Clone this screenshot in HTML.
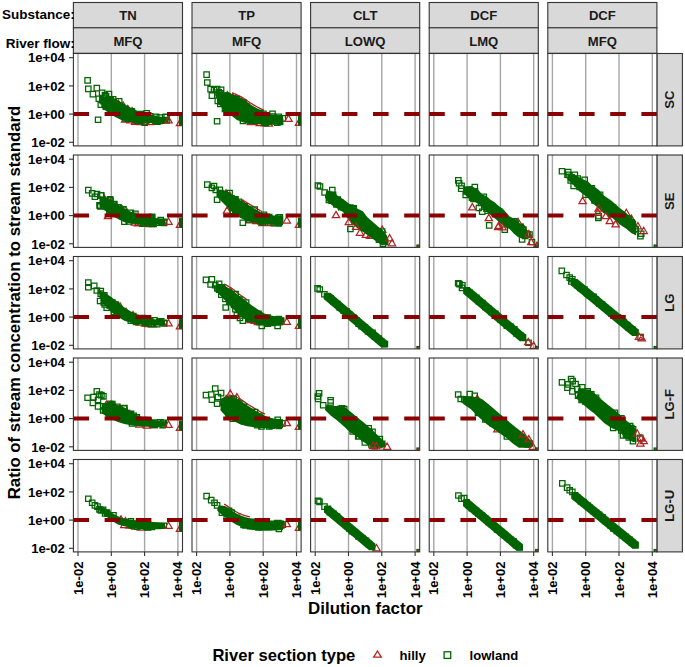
<!DOCTYPE html>
<html><head><meta charset="utf-8"><style>html,body{margin:0;padding:0;background:#fff;}svg{display:block;} text{font-family:"Liberation Sans",sans-serif;font-weight:bold;-webkit-font-smoothing:antialiased;} html,body{overflow:hidden;}</style></head>
<body><svg width="685" height="667" viewBox="0 0 685 667">
<rect width="685" height="667" fill="#fff"/>
<rect x="73.40" y="2.50" width="109.10" height="25.50" fill="#d9d9d9" stroke="#333333" stroke-width="1.1"/>
<text x="127.95" y="20.10" font-family="Liberation Sans, sans-serif" font-weight="bold" font-size="13.1" fill="#1a1a1a" text-anchor="middle">TN</text>
<rect x="73.40" y="27.80" width="109.10" height="25.50" fill="#d9d9d9" stroke="#333333" stroke-width="1.1"/>
<text x="127.95" y="45.90" font-family="Liberation Sans, sans-serif" font-weight="bold" font-size="13.1" fill="#1a1a1a" text-anchor="middle">MFQ</text>
<rect x="192.00" y="2.50" width="109.10" height="25.50" fill="#d9d9d9" stroke="#333333" stroke-width="1.1"/>
<text x="246.55" y="20.10" font-family="Liberation Sans, sans-serif" font-weight="bold" font-size="13.1" fill="#1a1a1a" text-anchor="middle">TP</text>
<rect x="192.00" y="27.80" width="109.10" height="25.50" fill="#d9d9d9" stroke="#333333" stroke-width="1.1"/>
<text x="246.55" y="45.90" font-family="Liberation Sans, sans-serif" font-weight="bold" font-size="13.1" fill="#1a1a1a" text-anchor="middle">MFQ</text>
<rect x="310.60" y="2.50" width="109.10" height="25.50" fill="#d9d9d9" stroke="#333333" stroke-width="1.1"/>
<text x="365.15" y="20.10" font-family="Liberation Sans, sans-serif" font-weight="bold" font-size="13.1" fill="#1a1a1a" text-anchor="middle">CLT</text>
<rect x="310.60" y="27.80" width="109.10" height="25.50" fill="#d9d9d9" stroke="#333333" stroke-width="1.1"/>
<text x="365.15" y="45.90" font-family="Liberation Sans, sans-serif" font-weight="bold" font-size="13.1" fill="#1a1a1a" text-anchor="middle">LOWQ</text>
<rect x="429.20" y="2.50" width="109.10" height="25.50" fill="#d9d9d9" stroke="#333333" stroke-width="1.1"/>
<text x="483.75" y="20.10" font-family="Liberation Sans, sans-serif" font-weight="bold" font-size="13.1" fill="#1a1a1a" text-anchor="middle">DCF</text>
<rect x="429.20" y="27.80" width="109.10" height="25.50" fill="#d9d9d9" stroke="#333333" stroke-width="1.1"/>
<text x="483.75" y="45.90" font-family="Liberation Sans, sans-serif" font-weight="bold" font-size="13.1" fill="#1a1a1a" text-anchor="middle">LMQ</text>
<rect x="547.80" y="2.50" width="109.10" height="25.50" fill="#d9d9d9" stroke="#333333" stroke-width="1.1"/>
<text x="602.35" y="20.10" font-family="Liberation Sans, sans-serif" font-weight="bold" font-size="13.1" fill="#1a1a1a" text-anchor="middle">DCF</text>
<rect x="547.80" y="27.80" width="109.10" height="25.50" fill="#d9d9d9" stroke="#333333" stroke-width="1.1"/>
<text x="602.35" y="45.90" font-family="Liberation Sans, sans-serif" font-weight="bold" font-size="13.1" fill="#1a1a1a" text-anchor="middle">MFQ</text>
<rect x="656.90" y="53.50" width="25.50" height="92.40" fill="#d9d9d9" stroke="#333333" stroke-width="1.1"/>
<text transform="translate(674.30,99.70) rotate(-90)" font-family="Liberation Sans, sans-serif" font-weight="bold" font-size="13.1" fill="#1a1a1a" text-anchor="middle">SC</text>
<rect x="656.90" y="155.00" width="25.50" height="92.40" fill="#d9d9d9" stroke="#333333" stroke-width="1.1"/>
<text transform="translate(674.30,201.20) rotate(-90)" font-family="Liberation Sans, sans-serif" font-weight="bold" font-size="13.1" fill="#1a1a1a" text-anchor="middle">SE</text>
<rect x="656.90" y="256.50" width="25.50" height="92.40" fill="#d9d9d9" stroke="#333333" stroke-width="1.1"/>
<text transform="translate(674.30,302.70) rotate(-90)" font-family="Liberation Sans, sans-serif" font-weight="bold" font-size="13.1" fill="#1a1a1a" text-anchor="middle">LG</text>
<rect x="656.90" y="358.00" width="25.50" height="92.40" fill="#d9d9d9" stroke="#333333" stroke-width="1.1"/>
<text transform="translate(674.30,404.20) rotate(-90)" font-family="Liberation Sans, sans-serif" font-weight="bold" font-size="13.1" fill="#1a1a1a" text-anchor="middle">LG-F</text>
<rect x="656.90" y="459.50" width="25.50" height="92.40" fill="#d9d9d9" stroke="#333333" stroke-width="1.1"/>
<text transform="translate(674.30,505.70) rotate(-90)" font-family="Liberation Sans, sans-serif" font-weight="bold" font-size="13.1" fill="#1a1a1a" text-anchor="middle">LG-U</text>
<text x="74.8" y="18.9" font-family="Liberation Sans, sans-serif" font-weight="bold" font-size="13.5" fill="#000" text-anchor="end">Substance:</text>
<text x="74.8" y="48.2" font-family="Liberation Sans, sans-serif" font-weight="bold" font-size="13.5" fill="#000" text-anchor="end">River flow:</text>
<rect x="73.40" y="53.50" width="109.10" height="92.40" fill="#fff"/>
<line x1="78.00" y1="53.50" x2="78.00" y2="145.90" stroke="#a6a6a6" stroke-width="1.4"/>
<line x1="111.30" y1="53.50" x2="111.30" y2="145.90" stroke="#a6a6a6" stroke-width="1.4"/>
<line x1="144.60" y1="53.50" x2="144.60" y2="145.90" stroke="#a6a6a6" stroke-width="1.4"/>
<line x1="177.90" y1="53.50" x2="177.90" y2="145.90" stroke="#a6a6a6" stroke-width="1.4"/>
<clipPath id="cp00"><rect x="73.40" y="53.50" width="109.10" height="92.40"/></clipPath><g clip-path="url(#cp00)"><path d="M106.7 95.1l3.65 6.3h-7.3zM112.9 97.6l3.65 6.3h-7.3zM118.4 100.1l3.65 6.3h-7.3zM123.3 102.0l3.65 6.3h-7.3zM127.8 105.4l3.65 6.3h-7.3zM132.1 107.6l3.65 6.3h-7.3zM125.1 115.7l3.65 6.3h-7.3zM130.7 116.5l3.65 6.3h-7.3zM135.2 118.1l3.65 6.3h-7.3zM140.7 118.3l3.65 6.3h-7.3zM145.7 118.3l3.65 6.3h-7.3zM149.9 118.3l3.65 6.3h-7.3zM180.0 119.4l3.65 6.3h-7.3z" fill="none" stroke="#b22222" stroke-width="1.25"/>
<path d="M102.0 96.0 L108.7 96.7 L115.2 99.3 L121.8 102.6 L128.4 106.5 L134.9 109.8 L141.5 112.5 L148.1 114.4 L154.6 115.7 L162.5 117.0 L168.0 117.5 L168.0 122.5 L162.5 123.0 L153.3 123.0 L144.1 123.6 L134.9 122.9 L128.4 121.6 L121.8 120.3 L115.2 117.0 L108.7 113.1 L102.0 107.9z" fill="#006400"/>
<path d="M144.2 114.3h5.4v5.4h-5.4zM120.0 109.6h5.4v5.4h-5.4zM129.2 108.7h5.4v5.4h-5.4zM151.7 117.1h5.4v5.4h-5.4zM115.4 107.2h5.4v5.4h-5.4zM134.0 117.8h5.4v5.4h-5.4zM147.4 113.5h5.4v5.4h-5.4zM164.0 114.2h5.4v5.4h-5.4zM126.9 114.6h5.4v5.4h-5.4zM109.3 102.7h5.4v5.4h-5.4zM101.9 101.7h5.4v5.4h-5.4zM149.8 116.0h5.4v5.4h-5.4zM157.1 114.8h5.4v5.4h-5.4zM145.2 116.0h5.4v5.4h-5.4zM137.6 113.4h5.4v5.4h-5.4zM154.7 119.0h5.4v5.4h-5.4zM130.6 114.3h5.4v5.4h-5.4zM103.3 103.0h5.4v5.4h-5.4zM142.0 119.9h5.4v5.4h-5.4zM153.5 114.2h5.4v5.4h-5.4zM124.8 112.6h5.4v5.4h-5.4zM100.8 98.4h5.4v5.4h-5.4zM110.4 96.7h5.4v5.4h-5.4zM103.2 103.9h5.4v5.4h-5.4zM107.8 97.8h5.4v5.4h-5.4zM125.1 115.9h5.4v5.4h-5.4zM104.6 99.8h5.4v5.4h-5.4zM135.6 118.1h5.4v5.4h-5.4zM153.4 118.4h5.4v5.4h-5.4zM117.7 105.5h5.4v5.4h-5.4zM123.0 115.6h5.4v5.4h-5.4zM162.5 114.3h5.4v5.4h-5.4zM110.9 99.0h5.4v5.4h-5.4zM114.7 105.3h5.4v5.4h-5.4zM138.2 111.4h5.4v5.4h-5.4zM99.6 97.4h5.4v5.4h-5.4zM123.7 110.6h5.4v5.4h-5.4zM162.2 117.4h5.4v5.4h-5.4zM133.3 114.4h5.4v5.4h-5.4zM143.9 110.7h5.4v5.4h-5.4zM158.7 118.0h5.4v5.4h-5.4zM157.0 118.1h5.4v5.4h-5.4zM125.2 108.6h5.4v5.4h-5.4zM106.1 103.5h5.4v5.4h-5.4zM103.4 93.6h5.4v5.4h-5.4zM84.9 77.6h5.4v5.4h-5.4zM85.6 86.1h5.4v5.4h-5.4zM94.1 85.4h5.4v5.4h-5.4zM90.2 91.4h5.4v5.4h-5.4zM99.4 90.0h5.4v5.4h-5.4zM96.1 96.0h5.4v5.4h-5.4zM98.1 101.9h5.4v5.4h-5.4zM95.4 117.0h5.4v5.4h-5.4zM116.5 98.6h5.4v5.4h-5.4zM163.8 117.6h5.4v5.4h-5.4zM102.3 92.3h5.4v5.4h-5.4zM106.3 91.3h5.4v5.4h-5.4z" fill="none" stroke="#006400" stroke-width="1.25"/>
<path d="M168.5 116.6l3.65 6.3h-7.3z" fill="none" stroke="#b22222" stroke-width="1.25"/>
<rect x="179.0" y="115.9" width="4" height="9.8" fill="#006400"/></g>
<line x1="73.40" y1="114.10" x2="182.50" y2="114.10" stroke="#8b0000" stroke-width="4" stroke-dasharray="15.6 15.6"/>
<rect x="73.40" y="53.50" width="109.10" height="92.40" fill="none" stroke="#333" stroke-width="1.1"/>
<rect x="192.00" y="53.50" width="109.10" height="92.40" fill="#fff"/>
<line x1="196.60" y1="53.50" x2="196.60" y2="145.90" stroke="#a6a6a6" stroke-width="1.4"/>
<line x1="229.90" y1="53.50" x2="229.90" y2="145.90" stroke="#a6a6a6" stroke-width="1.4"/>
<line x1="263.20" y1="53.50" x2="263.20" y2="145.90" stroke="#a6a6a6" stroke-width="1.4"/>
<line x1="296.50" y1="53.50" x2="296.50" y2="145.90" stroke="#a6a6a6" stroke-width="1.4"/>
<clipPath id="cp01"><rect x="192.00" y="53.50" width="109.10" height="92.40"/></clipPath><g clip-path="url(#cp01)"><path d="M227.4 91.5l3.65 6.3h-7.3zM232.8 93.7l3.65 6.3h-7.3zM235.6 94.7l3.65 6.3h-7.3zM241.6 97.6l3.65 6.3h-7.3zM245.3 99.7l3.65 6.3h-7.3zM249.0 103.2l3.65 6.3h-7.3zM250.8 118.2l3.65 6.3h-7.3zM253.5 118.4l3.65 6.3h-7.3zM259.9 119.3l3.65 6.3h-7.3zM264.8 119.6l3.65 6.3h-7.3zM268.8 119.7l3.65 6.3h-7.3zM299.0 119.1l3.65 6.3h-7.3z" fill="none" stroke="#b22222" stroke-width="1.25"/>
<path d="M232.0 92.8 L233.0 93.2 L234.0 93.6 L235.0 94.0 L236.0 94.4 L237.0 94.9 L238.0 95.4 L239.0 95.9 L240.0 96.4 L241.0 96.9 L242.0 97.4 L243.0 97.9 L244.0 98.5 L245.0 99.2 L246.0 99.9 L247.0 100.6 L248.0 101.3 L249.0 102.0 L250.0 102.7 L251.0 103.3 L252.0 103.9 L253.0 104.5 L254.0 105.1 L255.0 105.7 L256.0 106.2 L257.0 106.8 L258.0 107.3 L259.0 107.8 L260.0 108.3 L261.0 108.8 L262.0 109.3 L263.0 109.8 L264.0 110.3" fill="none" stroke="#b22222" stroke-width="1.3"/>
<path d="M217.1 93.0 L223.7 92.3 L229.0 93.0 L236.9 96.3 L243.4 99.6 L250.0 104.2 L256.6 108.1 L263.1 111.4 L269.7 114.0 L276.3 115.0 L283.0 115.5 L283.0 123.9 L277.6 124.6 L269.7 125.0 L263.1 124.6 L256.6 124.2 L250.0 123.9 L243.4 122.6 L236.9 120.0 L230.3 114.7 L223.7 109.5 L217.1 103.0z" fill="#006400"/>
<path d="M223.1 103.9h5.4v5.4h-5.4zM247.9 117.7h5.4v5.4h-5.4zM260.7 111.1h5.4v5.4h-5.4zM273.6 116.0h5.4v5.4h-5.4zM216.0 89.6h5.4v5.4h-5.4zM246.8 109.2h5.4v5.4h-5.4zM234.3 96.3h5.4v5.4h-5.4zM237.1 101.6h5.4v5.4h-5.4zM269.8 111.1h5.4v5.4h-5.4zM263.9 118.9h5.4v5.4h-5.4zM222.3 105.2h5.4v5.4h-5.4zM261.4 119.4h5.4v5.4h-5.4zM233.5 101.1h5.4v5.4h-5.4zM240.3 118.3h5.4v5.4h-5.4zM253.2 110.1h5.4v5.4h-5.4zM242.6 103.5h5.4v5.4h-5.4zM217.6 90.7h5.4v5.4h-5.4zM269.4 113.8h5.4v5.4h-5.4zM276.1 114.0h5.4v5.4h-5.4zM231.9 103.3h5.4v5.4h-5.4zM226.9 97.5h5.4v5.4h-5.4zM277.4 119.2h5.4v5.4h-5.4zM267.9 117.2h5.4v5.4h-5.4zM274.6 120.0h5.4v5.4h-5.4zM250.6 115.2h5.4v5.4h-5.4zM217.7 98.7h5.4v5.4h-5.4zM244.1 114.1h5.4v5.4h-5.4zM256.9 110.3h5.4v5.4h-5.4zM217.6 101.1h5.4v5.4h-5.4zM222.8 97.5h5.4v5.4h-5.4zM237.0 101.2h5.4v5.4h-5.4zM263.1 120.4h5.4v5.4h-5.4zM231.5 106.2h5.4v5.4h-5.4zM234.2 105.8h5.4v5.4h-5.4zM240.4 99.9h5.4v5.4h-5.4zM225.1 93.5h5.4v5.4h-5.4zM274.1 116.1h5.4v5.4h-5.4zM228.9 109.7h5.4v5.4h-5.4zM280.1 115.6h5.4v5.4h-5.4zM223.6 92.8h5.4v5.4h-5.4zM220.4 94.4h5.4v5.4h-5.4zM220.4 92.8h5.4v5.4h-5.4zM231.4 104.3h5.4v5.4h-5.4zM272.9 118.3h5.4v5.4h-5.4zM241.6 105.9h5.4v5.4h-5.4zM203.9 71.9h5.4v5.4h-5.4zM204.6 79.8h5.4v5.4h-5.4zM207.9 86.4h5.4v5.4h-5.4zM209.2 92.9h5.4v5.4h-5.4zM214.4 86.4h5.4v5.4h-5.4zM218.4 87.0h5.4v5.4h-5.4zM215.1 98.2h5.4v5.4h-5.4zM222.3 106.1h5.4v5.4h-5.4zM214.4 118.5h5.4v5.4h-5.4zM211.3 87.3h5.4v5.4h-5.4zM216.3 92.3h5.4v5.4h-5.4z" fill="none" stroke="#006400" stroke-width="1.25"/>
<path d="M288.5 115.0l3.65 6.3h-7.3z" fill="none" stroke="#b22222" stroke-width="1.25"/>
<rect x="298.0" y="115.6" width="4" height="9.8" fill="#006400"/></g>
<line x1="192.00" y1="114.10" x2="301.10" y2="114.10" stroke="#8b0000" stroke-width="4" stroke-dasharray="15.6 15.6"/>
<rect x="192.00" y="53.50" width="109.10" height="92.40" fill="none" stroke="#333" stroke-width="1.1"/>
<rect x="310.60" y="53.50" width="109.10" height="92.40" fill="#fff"/>
<line x1="315.20" y1="53.50" x2="315.20" y2="145.90" stroke="#a6a6a6" stroke-width="1.4"/>
<line x1="348.50" y1="53.50" x2="348.50" y2="145.90" stroke="#a6a6a6" stroke-width="1.4"/>
<line x1="381.80" y1="53.50" x2="381.80" y2="145.90" stroke="#a6a6a6" stroke-width="1.4"/>
<line x1="415.10" y1="53.50" x2="415.10" y2="145.90" stroke="#a6a6a6" stroke-width="1.4"/>
<clipPath id="cp02"><rect x="310.60" y="53.50" width="109.10" height="92.40"/></clipPath><g clip-path="url(#cp02)"><!--DATA02--></g>
<line x1="310.60" y1="114.10" x2="419.70" y2="114.10" stroke="#8b0000" stroke-width="4" stroke-dasharray="15.6 15.6"/>
<rect x="310.60" y="53.50" width="109.10" height="92.40" fill="none" stroke="#333" stroke-width="1.1"/>
<rect x="429.20" y="53.50" width="109.10" height="92.40" fill="#fff"/>
<line x1="433.80" y1="53.50" x2="433.80" y2="145.90" stroke="#a6a6a6" stroke-width="1.4"/>
<line x1="467.10" y1="53.50" x2="467.10" y2="145.90" stroke="#a6a6a6" stroke-width="1.4"/>
<line x1="500.40" y1="53.50" x2="500.40" y2="145.90" stroke="#a6a6a6" stroke-width="1.4"/>
<line x1="533.70" y1="53.50" x2="533.70" y2="145.90" stroke="#a6a6a6" stroke-width="1.4"/>
<clipPath id="cp03"><rect x="429.20" y="53.50" width="109.10" height="92.40"/></clipPath><g clip-path="url(#cp03)"><!--DATA03--></g>
<line x1="429.20" y1="114.10" x2="538.30" y2="114.10" stroke="#8b0000" stroke-width="4" stroke-dasharray="15.6 15.6"/>
<rect x="429.20" y="53.50" width="109.10" height="92.40" fill="none" stroke="#333" stroke-width="1.1"/>
<rect x="547.80" y="53.50" width="109.10" height="92.40" fill="#fff"/>
<line x1="552.40" y1="53.50" x2="552.40" y2="145.90" stroke="#a6a6a6" stroke-width="1.4"/>
<line x1="585.70" y1="53.50" x2="585.70" y2="145.90" stroke="#a6a6a6" stroke-width="1.4"/>
<line x1="619.00" y1="53.50" x2="619.00" y2="145.90" stroke="#a6a6a6" stroke-width="1.4"/>
<line x1="652.30" y1="53.50" x2="652.30" y2="145.90" stroke="#a6a6a6" stroke-width="1.4"/>
<clipPath id="cp04"><rect x="547.80" y="53.50" width="109.10" height="92.40"/></clipPath><g clip-path="url(#cp04)"><!--DATA04--></g>
<line x1="547.80" y1="114.10" x2="656.90" y2="114.10" stroke="#8b0000" stroke-width="4" stroke-dasharray="15.6 15.6"/>
<rect x="547.80" y="53.50" width="109.10" height="92.40" fill="none" stroke="#333" stroke-width="1.1"/>
<rect x="73.40" y="155.00" width="109.10" height="92.40" fill="#fff"/>
<line x1="78.00" y1="155.00" x2="78.00" y2="247.40" stroke="#a6a6a6" stroke-width="1.4"/>
<line x1="111.30" y1="155.00" x2="111.30" y2="247.40" stroke="#a6a6a6" stroke-width="1.4"/>
<line x1="144.60" y1="155.00" x2="144.60" y2="247.40" stroke="#a6a6a6" stroke-width="1.4"/>
<line x1="177.90" y1="155.00" x2="177.90" y2="247.40" stroke="#a6a6a6" stroke-width="1.4"/>
<clipPath id="cp10"><rect x="73.40" y="155.00" width="109.10" height="92.40"/></clipPath><g clip-path="url(#cp10)"><path d="M108.0 212.4l3.65 6.3h-7.3zM104.5 195.4l3.65 6.3h-7.3zM110.6 198.4l3.65 6.3h-7.3zM116.2 202.6l3.65 6.3h-7.3zM122.5 206.0l3.65 6.3h-7.3zM127.0 208.7l3.65 6.3h-7.3zM133.2 212.2l3.65 6.3h-7.3zM134.9 218.9l3.65 6.3h-7.3zM138.1 219.5l3.65 6.3h-7.3zM143.6 220.0l3.65 6.3h-7.3zM147.3 219.7l3.65 6.3h-7.3zM150.6 220.2l3.65 6.3h-7.3zM180.0 221.1l3.65 6.3h-7.3z" fill="none" stroke="#b22222" stroke-width="1.25"/>
<path d="M99.5 196.1 L104.7 196.7 L111.3 200.0 L117.9 204.6 L124.4 208.5 L131.0 211.8 L137.6 214.5 L144.1 215.8 L150.7 217.1 L158.6 218.4 L165.0 219.0 L165.0 224.0 L158.6 224.6 L150.7 225.0 L144.1 225.0 L137.6 224.6 L131.0 223.6 L124.4 222.3 L117.9 219.0 L111.3 215.1 L104.7 210.5 L99.5 207.2z" fill="#006400"/>
<path d="M160.9 219.8h5.4v5.4h-5.4zM142.4 214.6h5.4v5.4h-5.4zM120.8 206.5h5.4v5.4h-5.4zM147.4 217.6h5.4v5.4h-5.4zM147.8 215.9h5.4v5.4h-5.4zM111.4 210.3h5.4v5.4h-5.4zM161.3 219.7h5.4v5.4h-5.4zM149.6 219.9h5.4v5.4h-5.4zM145.3 214.7h5.4v5.4h-5.4zM130.7 213.0h5.4v5.4h-5.4zM98.7 192.9h5.4v5.4h-5.4zM115.1 204.5h5.4v5.4h-5.4zM142.2 221.0h5.4v5.4h-5.4zM126.1 218.8h5.4v5.4h-5.4zM161.5 220.2h5.4v5.4h-5.4zM120.7 207.2h5.4v5.4h-5.4zM111.7 201.3h5.4v5.4h-5.4zM110.2 206.7h5.4v5.4h-5.4zM155.8 220.0h5.4v5.4h-5.4zM128.2 215.8h5.4v5.4h-5.4zM149.2 214.2h5.4v5.4h-5.4zM140.1 220.5h5.4v5.4h-5.4zM148.0 219.4h5.4v5.4h-5.4zM128.1 210.1h5.4v5.4h-5.4zM148.5 216.0h5.4v5.4h-5.4zM149.3 221.1h5.4v5.4h-5.4zM122.7 210.7h5.4v5.4h-5.4zM158.8 219.1h5.4v5.4h-5.4zM107.9 197.8h5.4v5.4h-5.4zM106.7 208.8h5.4v5.4h-5.4zM149.6 214.7h5.4v5.4h-5.4zM150.9 221.1h5.4v5.4h-5.4zM139.9 215.1h5.4v5.4h-5.4zM132.7 211.2h5.4v5.4h-5.4zM97.7 203.8h5.4v5.4h-5.4zM139.4 216.7h5.4v5.4h-5.4zM158.0 217.4h5.4v5.4h-5.4zM153.9 219.9h5.4v5.4h-5.4zM110.6 201.4h5.4v5.4h-5.4zM116.0 204.8h5.4v5.4h-5.4zM85.6 187.4h5.4v5.4h-5.4zM89.5 190.7h5.4v5.4h-5.4zM92.2 194.0h5.4v5.4h-5.4zM96.8 202.6h5.4v5.4h-5.4zM98.1 192.7h5.4v5.4h-5.4zM107.3 196.6h5.4v5.4h-5.4zM121.7 219.0h5.4v5.4h-5.4zM161.1 219.0h5.4v5.4h-5.4zM94.3 191.3h5.4v5.4h-5.4z" fill="none" stroke="#006400" stroke-width="1.25"/>
<path d="M168.5 218.0l3.65 6.3h-7.3z" fill="none" stroke="#b22222" stroke-width="1.25"/>
<rect x="179.0" y="217.6" width="4" height="9.8" fill="#006400"/></g>
<line x1="73.40" y1="215.60" x2="182.50" y2="215.60" stroke="#8b0000" stroke-width="4" stroke-dasharray="15.6 15.6"/>
<rect x="73.40" y="155.00" width="109.10" height="92.40" fill="none" stroke="#333" stroke-width="1.1"/>
<rect x="192.00" y="155.00" width="109.10" height="92.40" fill="#fff"/>
<line x1="196.60" y1="155.00" x2="196.60" y2="247.40" stroke="#a6a6a6" stroke-width="1.4"/>
<line x1="229.90" y1="155.00" x2="229.90" y2="247.40" stroke="#a6a6a6" stroke-width="1.4"/>
<line x1="263.20" y1="155.00" x2="263.20" y2="247.40" stroke="#a6a6a6" stroke-width="1.4"/>
<line x1="296.50" y1="155.00" x2="296.50" y2="247.40" stroke="#a6a6a6" stroke-width="1.4"/>
<clipPath id="cp11"><rect x="192.00" y="155.00" width="109.10" height="92.40"/></clipPath><g clip-path="url(#cp11)"><path d="M227.0 206.9l3.65 6.3h-7.3zM226.0 189.7l3.65 6.3h-7.3zM229.8 192.1l3.65 6.3h-7.3zM236.3 197.0l3.65 6.3h-7.3zM242.9 199.9l3.65 6.3h-7.3zM249.6 216.5l3.65 6.3h-7.3zM256.5 217.4l3.65 6.3h-7.3zM262.4 219.3l3.65 6.3h-7.3zM270.5 219.4l3.65 6.3h-7.3zM299.0 221.1l3.65 6.3h-7.3z" fill="none" stroke="#b22222" stroke-width="1.25"/>
<path d="M244.0 200.9 L245.0 201.5 L246.0 202.1 L247.0 202.7 L248.0 203.3 L249.0 203.9 L250.0 204.5 L251.0 205.1 L252.0 205.7 L253.0 206.3 L254.0 207.0 L255.0 207.6 L256.0 208.1 L257.0 208.7 L258.0 209.3 L259.0 209.9 L260.0 210.5 L261.0 211.0 L262.0 211.3" fill="none" stroke="#b22222" stroke-width="1.3"/>
<path d="M219.8 189.9 L227.7 191.2 L234.2 196.4 L240.8 200.4 L247.4 204.3 L253.9 208.3 L260.5 212.2 L267.1 214.4 L273.6 215.5 L283.0 216.1 L283.0 225.0 L269.7 224.7 L261.8 224.0 L253.9 222.7 L246.0 220.7 L239.5 217.5 L232.9 212.9 L226.3 206.3 L219.8 199.7z" fill="#006400"/>
<path d="M217.1 190.7h5.4v5.4h-5.4zM275.7 219.5h5.4v5.4h-5.4zM271.2 220.5h5.4v5.4h-5.4zM232.8 196.6h5.4v5.4h-5.4zM226.9 198.3h5.4v5.4h-5.4zM260.2 219.5h5.4v5.4h-5.4zM262.7 217.2h5.4v5.4h-5.4zM265.4 216.0h5.4v5.4h-5.4zM252.0 206.9h5.4v5.4h-5.4zM266.5 214.3h5.4v5.4h-5.4zM275.2 218.2h5.4v5.4h-5.4zM236.3 199.1h5.4v5.4h-5.4zM233.0 205.0h5.4v5.4h-5.4zM261.3 212.1h5.4v5.4h-5.4zM221.5 194.5h5.4v5.4h-5.4zM253.9 212.1h5.4v5.4h-5.4zM231.2 203.3h5.4v5.4h-5.4zM217.8 190.3h5.4v5.4h-5.4zM246.2 216.7h5.4v5.4h-5.4zM257.8 218.6h5.4v5.4h-5.4zM247.1 206.8h5.4v5.4h-5.4zM232.7 209.9h5.4v5.4h-5.4zM261.6 213.9h5.4v5.4h-5.4zM218.5 192.4h5.4v5.4h-5.4zM259.7 214.5h5.4v5.4h-5.4zM233.4 205.8h5.4v5.4h-5.4zM275.6 215.2h5.4v5.4h-5.4zM219.3 191.3h5.4v5.4h-5.4zM243.7 211.8h5.4v5.4h-5.4zM229.6 205.0h5.4v5.4h-5.4zM263.8 216.2h5.4v5.4h-5.4zM230.1 208.2h5.4v5.4h-5.4zM236.8 210.5h5.4v5.4h-5.4zM231.7 197.7h5.4v5.4h-5.4zM265.2 214.6h5.4v5.4h-5.4zM277.3 217.2h5.4v5.4h-5.4zM228.9 195.5h5.4v5.4h-5.4zM243.5 211.5h5.4v5.4h-5.4zM277.1 214.7h5.4v5.4h-5.4zM242.0 203.7h5.4v5.4h-5.4zM204.6 181.9h5.4v5.4h-5.4zM209.2 185.2h5.4v5.4h-5.4zM213.1 187.2h5.4v5.4h-5.4zM217.1 187.2h5.4v5.4h-5.4zM214.4 197.0h5.4v5.4h-5.4zM226.9 190.4h5.4v5.4h-5.4zM240.1 220.0h5.4v5.4h-5.4zM276.2 220.7h5.4v5.4h-5.4zM211.3 183.3h5.4v5.4h-5.4z" fill="none" stroke="#006400" stroke-width="1.25"/>
<path d="M286.8 216.7l3.65 6.3h-7.3z" fill="none" stroke="#b22222" stroke-width="1.25"/>
<rect x="298.0" y="217.6" width="4" height="9.8" fill="#006400"/></g>
<line x1="192.00" y1="215.60" x2="301.10" y2="215.60" stroke="#8b0000" stroke-width="4" stroke-dasharray="15.6 15.6"/>
<rect x="192.00" y="155.00" width="109.10" height="92.40" fill="none" stroke="#333" stroke-width="1.1"/>
<rect x="310.60" y="155.00" width="109.10" height="92.40" fill="#fff"/>
<line x1="315.20" y1="155.00" x2="315.20" y2="247.40" stroke="#a6a6a6" stroke-width="1.4"/>
<line x1="348.50" y1="155.00" x2="348.50" y2="247.40" stroke="#a6a6a6" stroke-width="1.4"/>
<line x1="381.80" y1="155.00" x2="381.80" y2="247.40" stroke="#a6a6a6" stroke-width="1.4"/>
<line x1="415.10" y1="155.00" x2="415.10" y2="247.40" stroke="#a6a6a6" stroke-width="1.4"/>
<clipPath id="cp12"><rect x="310.60" y="155.00" width="109.10" height="92.40"/></clipPath><g clip-path="url(#cp12)"><path d="M360.0 229.0l3.65 6.3h-7.3zM366.0 231.0l3.65 6.3h-7.3zM370.0 232.0l3.65 6.3h-7.3zM382.2 226.0l3.65 6.3h-7.3z" fill="none" stroke="#b22222" stroke-width="1.25"/>
<path d="M326.5 190.3 L334.7 192.3 L337.2 195.6 L343.0 198.9 L349.6 203.9 L356.2 208.0 L362.8 211.3 L367.4 217.3 L374.0 223.0 L378.9 227.2 L382.2 229.6 L386.3 234.6 L388.5 239.0 L388.5 245.3 L382.2 245.3 L378.1 242.8 L371.5 237.9 L363.2 232.1 L359.5 230.0 L352.9 224.5 L347.1 217.9 L343.0 212.1 L336.4 208.0 L332.3 205.5 L329.0 203.0 L324.8 197.3z" fill="#006400"/>
<path d="M333.7 201.6h5.4v5.4h-5.4zM337.6 200.2h5.4v5.4h-5.4zM376.3 237.0h5.4v5.4h-5.4zM335.1 196.9h5.4v5.4h-5.4zM348.6 211.4h5.4v5.4h-5.4zM347.6 204.8h5.4v5.4h-5.4zM339.1 204.4h5.4v5.4h-5.4zM379.4 228.8h5.4v5.4h-5.4zM358.7 222.7h5.4v5.4h-5.4zM326.2 197.2h5.4v5.4h-5.4zM331.1 197.7h5.4v5.4h-5.4zM357.9 220.0h5.4v5.4h-5.4zM342.8 204.5h5.4v5.4h-5.4zM359.9 217.5h5.4v5.4h-5.4zM364.6 222.6h5.4v5.4h-5.4zM351.0 205.5h5.4v5.4h-5.4zM362.2 220.8h5.4v5.4h-5.4zM338.4 204.4h5.4v5.4h-5.4zM372.2 228.8h5.4v5.4h-5.4zM334.9 199.3h5.4v5.4h-5.4zM330.4 192.1h5.4v5.4h-5.4zM350.5 206.3h5.4v5.4h-5.4zM351.2 213.4h5.4v5.4h-5.4zM326.3 195.5h5.4v5.4h-5.4zM328.9 198.0h5.4v5.4h-5.4zM315.3 182.8h5.4v5.4h-5.4zM317.3 183.8h5.4v5.4h-5.4zM321.9 189.8h5.4v5.4h-5.4zM329.6 187.3h5.4v5.4h-5.4zM347.7 226.3h5.4v5.4h-5.4zM380.3 241.3h5.4v5.4h-5.4z" fill="none" stroke="#006400" stroke-width="1.25"/>
<path d="M336.0 211.4l3.65 6.3h-7.3zM348.8 218.4l3.65 6.3h-7.3zM356.2 223.0l3.65 6.3h-7.3zM389.6 234.5l3.65 6.3h-7.3zM392.0 239.5l3.65 6.3h-7.3z" fill="none" stroke="#b22222" stroke-width="1.25"/>
<rect x="416.3" y="244.4" width="4" height="3.5" fill="#006400"/>
<rect x="417.9" y="245.4" width="1.4" height="2.5" fill="#c0302a"/></g>
<line x1="310.60" y1="215.60" x2="419.70" y2="215.60" stroke="#8b0000" stroke-width="4" stroke-dasharray="15.6 15.6"/>
<rect x="310.60" y="155.00" width="109.10" height="92.40" fill="none" stroke="#333" stroke-width="1.1"/>
<rect x="429.20" y="155.00" width="109.10" height="92.40" fill="#fff"/>
<line x1="433.80" y1="155.00" x2="433.80" y2="247.40" stroke="#a6a6a6" stroke-width="1.4"/>
<line x1="467.10" y1="155.00" x2="467.10" y2="247.40" stroke="#a6a6a6" stroke-width="1.4"/>
<line x1="500.40" y1="155.00" x2="500.40" y2="247.40" stroke="#a6a6a6" stroke-width="1.4"/>
<line x1="533.70" y1="155.00" x2="533.70" y2="247.40" stroke="#a6a6a6" stroke-width="1.4"/>
<clipPath id="cp13"><rect x="429.20" y="155.00" width="109.10" height="92.40"/></clipPath><g clip-path="url(#cp13)"><path d="M518.0 218.2l3.65 6.3h-7.3zM523.0 224.0l3.65 6.3h-7.3z" fill="none" stroke="#b22222" stroke-width="1.25"/>
<path d="M463.2 186.5 L471.5 186.1 L478.1 189.8 L482.2 194.4 L486.3 196.0 L490.5 199.7 L494.6 202.2 L498.7 205.9 L502.8 208.8 L509.7 216.4 L516.3 219.7 L522.1 226.3 L527.9 232.1 L527.9 236.0 L523.8 238.7 L518.0 237.1 L513.9 233.8 L509.7 229.0 L505.0 227.0 L501.0 224.0 L496.2 219.5 L492.1 216.2 L488.0 212.9 L483.9 209.6 L479.7 204.7 L475.6 202.2 L471.5 200.6 L467.4 197.3 L463.2 192.7z" fill="#006400"/>
<path d="M510.8 223.3h5.4v5.4h-5.4zM464.0 188.8h5.4v5.4h-5.4zM484.9 207.9h5.4v5.4h-5.4zM469.3 195.0h5.4v5.4h-5.4zM524.9 231.7h5.4v5.4h-5.4zM513.2 220.8h5.4v5.4h-5.4zM524.0 231.1h5.4v5.4h-5.4zM522.4 233.3h5.4v5.4h-5.4zM471.2 195.0h5.4v5.4h-5.4zM520.7 226.8h5.4v5.4h-5.4zM483.2 204.0h5.4v5.4h-5.4zM470.8 196.1h5.4v5.4h-5.4zM478.3 200.2h5.4v5.4h-5.4zM469.8 191.1h5.4v5.4h-5.4zM520.0 227.4h5.4v5.4h-5.4zM477.5 196.1h5.4v5.4h-5.4zM481.1 194.2h5.4v5.4h-5.4zM472.3 188.5h5.4v5.4h-5.4zM521.1 232.1h5.4v5.4h-5.4zM518.4 225.6h5.4v5.4h-5.4zM511.3 218.7h5.4v5.4h-5.4zM494.8 211.9h5.4v5.4h-5.4zM483.8 206.0h5.4v5.4h-5.4zM496.4 212.6h5.4v5.4h-5.4zM517.6 224.1h5.4v5.4h-5.4zM455.6 177.7h5.4v5.4h-5.4zM456.4 180.5h5.4v5.4h-5.4zM458.9 183.0h5.4v5.4h-5.4zM458.5 185.9h5.4v5.4h-5.4zM472.1 184.3h5.4v5.4h-5.4zM463.0 192.1h5.4v5.4h-5.4zM476.2 205.3h5.4v5.4h-5.4zM479.5 209.0h5.4v5.4h-5.4zM486.5 222.6h5.4v5.4h-5.4zM502.1 226.9h5.4v5.4h-5.4zM519.4 236.8h5.4v5.4h-5.4zM526.8 231.9h5.4v5.4h-5.4zM529.3 239.3h5.4v5.4h-5.4z" fill="none" stroke="#006400" stroke-width="1.25"/>
<path d="M472.3 203.6l3.65 6.3h-7.3zM488.8 214.3l3.65 6.3h-7.3zM498.7 222.1l3.65 6.3h-7.3zM498.2 223.2l3.65 6.3h-7.3zM502.7 223.6l3.65 6.3h-7.3zM528.7 230.6l3.65 6.3h-7.3zM531.2 238.4l3.65 6.3h-7.3zM537.0 242.1l3.65 6.3h-7.3z" fill="none" stroke="#b22222" stroke-width="1.25"/>
<rect x="534.9" y="244.4" width="4" height="3.5" fill="#006400"/>
<rect x="536.5" y="245.4" width="1.4" height="2.5" fill="#c0302a"/></g>
<line x1="429.20" y1="215.60" x2="538.30" y2="215.60" stroke="#8b0000" stroke-width="4" stroke-dasharray="15.6 15.6"/>
<rect x="429.20" y="155.00" width="109.10" height="92.40" fill="none" stroke="#333" stroke-width="1.1"/>
<rect x="547.80" y="155.00" width="109.10" height="92.40" fill="#fff"/>
<line x1="552.40" y1="155.00" x2="552.40" y2="247.40" stroke="#a6a6a6" stroke-width="1.4"/>
<line x1="585.70" y1="155.00" x2="585.70" y2="247.40" stroke="#a6a6a6" stroke-width="1.4"/>
<line x1="619.00" y1="155.00" x2="619.00" y2="247.40" stroke="#a6a6a6" stroke-width="1.4"/>
<line x1="652.30" y1="155.00" x2="652.30" y2="247.40" stroke="#a6a6a6" stroke-width="1.4"/>
<clipPath id="cp14"><rect x="547.80" y="155.00" width="109.10" height="92.40"/></clipPath><g clip-path="url(#cp14)"><path d="M626.3 209.3l3.65 6.3h-7.3zM631.3 215.0l3.65 6.3h-7.3zM637.9 222.5l3.65 6.3h-7.3z" fill="none" stroke="#b22222" stroke-width="1.25"/>
<path d="M567.4 173.2 L575.6 174.9 L582.2 179.0 L588.0 181.5 L592.1 185.6 L598.7 189.7 L603.2 195.0 L611.5 200.7 L619.7 208.1 L625.5 212.3 L630.5 217.2 L636.2 221.3 L636.2 235.4 L631.3 232.9 L626.3 228.8 L619.7 224.6 L611.5 217.2 L603.2 213.1 L596.2 206.2 L592.1 202.9 L588.0 198.0 L583.9 194.7 L579.7 191.4 L575.6 186.4 L571.5 184.0 L567.4 179.0z" fill="#006400"/>
<path d="M633.0 226.8h5.4v5.4h-5.4zM591.8 197.7h5.4v5.4h-5.4zM582.9 191.9h5.4v5.4h-5.4zM604.4 201.6h5.4v5.4h-5.4zM617.3 213.1h5.4v5.4h-5.4zM576.9 184.3h5.4v5.4h-5.4zM568.0 177.8h5.4v5.4h-5.4zM582.2 186.8h5.4v5.4h-5.4zM632.4 226.0h5.4v5.4h-5.4zM610.4 205.1h5.4v5.4h-5.4zM564.8 172.0h5.4v5.4h-5.4zM575.0 181.0h5.4v5.4h-5.4zM594.4 195.4h5.4v5.4h-5.4zM626.3 216.1h5.4v5.4h-5.4zM580.3 185.8h5.4v5.4h-5.4zM566.2 172.2h5.4v5.4h-5.4zM589.1 185.6h5.4v5.4h-5.4zM589.3 187.4h5.4v5.4h-5.4zM604.9 205.2h5.4v5.4h-5.4zM578.7 184.4h5.4v5.4h-5.4zM597.4 192.2h5.4v5.4h-5.4zM629.1 219.8h5.4v5.4h-5.4zM575.0 175.8h5.4v5.4h-5.4zM608.6 211.2h5.4v5.4h-5.4zM618.5 213.3h5.4v5.4h-5.4zM559.3 168.5h5.4v5.4h-5.4zM565.5 169.3h5.4v5.4h-5.4zM572.1 172.2h5.4v5.4h-5.4zM570.9 183.3h5.4v5.4h-5.4zM582.0 177.1h5.4v5.4h-5.4zM568.8 174.7h5.4v5.4h-5.4zM596.0 213.4h5.4v5.4h-5.4zM595.6 215.3h5.4v5.4h-5.4zM638.5 231.0h5.4v5.4h-5.4zM637.7 233.5h5.4v5.4h-5.4z" fill="none" stroke="#006400" stroke-width="1.25"/>
<path d="M582.6 197.3l3.65 6.3h-7.3zM598.7 204.7l3.65 6.3h-7.3zM597.9 208.8l3.65 6.3h-7.3zM605.7 212.4l3.65 6.3h-7.3zM609.8 217.3l3.65 6.3h-7.3zM615.6 220.6l3.65 6.3h-7.3zM643.7 227.2l3.65 6.3h-7.3z" fill="none" stroke="#b22222" stroke-width="1.25"/>
<rect x="653.5" y="244.4" width="4" height="3.5" fill="#006400"/>
<rect x="655.1" y="245.4" width="1.4" height="2.5" fill="#c0302a"/></g>
<line x1="547.80" y1="215.60" x2="656.90" y2="215.60" stroke="#8b0000" stroke-width="4" stroke-dasharray="15.6 15.6"/>
<rect x="547.80" y="155.00" width="109.10" height="92.40" fill="none" stroke="#333" stroke-width="1.1"/>
<rect x="73.40" y="256.50" width="109.10" height="92.40" fill="#fff"/>
<line x1="78.00" y1="256.50" x2="78.00" y2="348.90" stroke="#a6a6a6" stroke-width="1.4"/>
<line x1="111.30" y1="256.50" x2="111.30" y2="348.90" stroke="#a6a6a6" stroke-width="1.4"/>
<line x1="144.60" y1="256.50" x2="144.60" y2="348.90" stroke="#a6a6a6" stroke-width="1.4"/>
<line x1="177.90" y1="256.50" x2="177.90" y2="348.90" stroke="#a6a6a6" stroke-width="1.4"/>
<clipPath id="cp20"><rect x="73.40" y="256.50" width="109.10" height="92.40"/></clipPath><g clip-path="url(#cp20)"><path d="M120.1 302.7l3.65 6.3h-7.3zM126.1 308.2l3.65 6.3h-7.3zM133.0 311.5l3.65 6.3h-7.3zM139.9 318.7l3.65 6.3h-7.3zM145.1 319.8l3.65 6.3h-7.3zM148.5 320.4l3.65 6.3h-7.3zM152.6 320.6l3.65 6.3h-7.3zM180.0 322.6l3.65 6.3h-7.3z" fill="none" stroke="#b22222" stroke-width="1.25"/>
<path d="M99.5 290.5 L104.7 292.5 L111.3 297.1 L117.9 302.3 L124.4 307.6 L131.0 311.5 L137.6 314.8 L144.1 317.4 L150.7 318.7 L158.6 319.8 L165.0 320.3 L165.0 325.3 L158.6 325.6 L150.7 325.6 L144.1 325.0 L137.6 324.0 L131.0 322.7 L124.4 320.7 L117.9 316.8 L111.3 312.2 L104.7 305.6 L99.5 297.7z" fill="#006400"/>
<path d="M144.3 318.7h5.4v5.4h-5.4zM118.2 308.7h5.4v5.4h-5.4zM133.2 317.9h5.4v5.4h-5.4zM103.8 298.0h5.4v5.4h-5.4zM113.1 301.9h5.4v5.4h-5.4zM147.4 318.9h5.4v5.4h-5.4zM133.6 317.8h5.4v5.4h-5.4zM156.6 319.3h5.4v5.4h-5.4zM136.9 316.8h5.4v5.4h-5.4zM130.3 316.3h5.4v5.4h-5.4zM126.4 313.4h5.4v5.4h-5.4zM128.1 318.0h5.4v5.4h-5.4zM142.6 320.3h5.4v5.4h-5.4zM158.5 318.7h5.4v5.4h-5.4zM133.4 319.2h5.4v5.4h-5.4zM151.8 317.6h5.4v5.4h-5.4zM104.8 297.5h5.4v5.4h-5.4zM101.6 292.6h5.4v5.4h-5.4zM101.6 297.3h5.4v5.4h-5.4zM148.1 321.0h5.4v5.4h-5.4zM106.9 302.8h5.4v5.4h-5.4zM140.0 315.4h5.4v5.4h-5.4zM154.6 321.4h5.4v5.4h-5.4zM111.2 309.3h5.4v5.4h-5.4zM122.9 311.3h5.4v5.4h-5.4zM161.6 320.7h5.4v5.4h-5.4zM107.4 299.5h5.4v5.4h-5.4zM130.6 313.3h5.4v5.4h-5.4zM109.6 299.8h5.4v5.4h-5.4zM144.1 315.7h5.4v5.4h-5.4zM133.1 315.1h5.4v5.4h-5.4zM98.0 290.9h5.4v5.4h-5.4zM137.7 317.0h5.4v5.4h-5.4zM101.0 299.8h5.4v5.4h-5.4zM148.4 321.4h5.4v5.4h-5.4zM85.6 279.9h5.4v5.4h-5.4zM85.6 284.5h5.4v5.4h-5.4zM91.5 283.2h5.4v5.4h-5.4zM94.1 287.8h5.4v5.4h-5.4zM98.1 288.4h5.4v5.4h-5.4zM97.4 298.3h5.4v5.4h-5.4zM102.0 301.6h5.4v5.4h-5.4zM104.0 304.9h5.4v5.4h-5.4zM161.1 320.0h5.4v5.4h-5.4z" fill="none" stroke="#006400" stroke-width="1.25"/>
<path d="M168.5 319.5l3.65 6.3h-7.3z" fill="none" stroke="#b22222" stroke-width="1.25"/>
<rect x="179.0" y="319.1" width="4" height="9.8" fill="#006400"/></g>
<line x1="73.40" y1="317.10" x2="182.50" y2="317.10" stroke="#8b0000" stroke-width="4" stroke-dasharray="15.6 15.6"/>
<rect x="73.40" y="256.50" width="109.10" height="92.40" fill="none" stroke="#333" stroke-width="1.1"/>
<rect x="192.00" y="256.50" width="109.10" height="92.40" fill="#fff"/>
<line x1="196.60" y1="256.50" x2="196.60" y2="348.90" stroke="#a6a6a6" stroke-width="1.4"/>
<line x1="229.90" y1="256.50" x2="229.90" y2="348.90" stroke="#a6a6a6" stroke-width="1.4"/>
<line x1="263.20" y1="256.50" x2="263.20" y2="348.90" stroke="#a6a6a6" stroke-width="1.4"/>
<line x1="296.50" y1="256.50" x2="296.50" y2="348.90" stroke="#a6a6a6" stroke-width="1.4"/>
<clipPath id="cp21"><rect x="192.00" y="256.50" width="109.10" height="92.40"/></clipPath><g clip-path="url(#cp21)"><path d="M222.8 284.7l3.65 6.3h-7.3zM224.2 284.7l3.65 6.3h-7.3zM230.5 287.9l3.65 6.3h-7.3zM250.7 316.2l3.65 6.3h-7.3zM254.8 317.0l3.65 6.3h-7.3zM257.9 318.4l3.65 6.3h-7.3zM299.0 322.1l3.65 6.3h-7.3z" fill="none" stroke="#b22222" stroke-width="1.25"/>
<path d="M224.0 284.4 L225.0 284.3 L226.0 284.9 L227.0 285.5 L228.0 286.1 L229.0 286.7 L230.0 287.3 L231.0 287.8 L232.0 288.5 L233.0 289.3 L234.0 290.1 L235.0 290.9 L236.0 291.7 L237.0 292.5 L238.0 293.3 L239.0 294.1 L240.0 294.8 L241.0 295.5 L242.0 296.2 L243.0 296.9 L244.0 297.6 L245.0 298.3 L246.0 299.1 L247.0 299.9" fill="none" stroke="#b22222" stroke-width="1.3"/>
<path d="M217.1 286.5 L225.0 285.9 L231.6 289.8 L238.2 295.1 L244.7 299.7 L251.3 304.9 L257.9 309.5 L264.4 313.5 L271.0 315.4 L277.6 316.7 L284.2 317.8 L284.2 325.0 L280.2 325.7 L269.7 325.9 L263.1 325.3 L256.6 323.3 L250.0 321.3 L243.4 318.0 L236.9 312.8 L230.3 306.2 L223.7 299.0 L217.1 292.4z" fill="#006400"/>
<path d="M236.7 296.9h5.4v5.4h-5.4zM214.6 285.8h5.4v5.4h-5.4zM238.0 311.0h5.4v5.4h-5.4zM222.7 296.3h5.4v5.4h-5.4zM228.3 293.1h5.4v5.4h-5.4zM269.5 320.3h5.4v5.4h-5.4zM243.4 299.8h5.4v5.4h-5.4zM246.2 306.9h5.4v5.4h-5.4zM276.1 316.4h5.4v5.4h-5.4zM238.8 310.7h5.4v5.4h-5.4zM216.4 286.9h5.4v5.4h-5.4zM268.9 319.9h5.4v5.4h-5.4zM217.1 284.7h5.4v5.4h-5.4zM218.6 291.9h5.4v5.4h-5.4zM231.6 302.1h5.4v5.4h-5.4zM274.7 317.2h5.4v5.4h-5.4zM232.7 306.5h5.4v5.4h-5.4zM255.8 311.1h5.4v5.4h-5.4zM262.5 314.9h5.4v5.4h-5.4zM232.9 291.3h5.4v5.4h-5.4zM265.1 320.9h5.4v5.4h-5.4zM256.9 319.5h5.4v5.4h-5.4zM216.0 285.8h5.4v5.4h-5.4zM246.3 316.0h5.4v5.4h-5.4zM278.4 317.8h5.4v5.4h-5.4zM231.2 296.7h5.4v5.4h-5.4zM247.5 316.2h5.4v5.4h-5.4zM226.7 298.2h5.4v5.4h-5.4zM264.0 319.9h5.4v5.4h-5.4zM266.3 318.3h5.4v5.4h-5.4zM236.4 299.2h5.4v5.4h-5.4zM238.7 308.6h5.4v5.4h-5.4zM219.7 286.1h5.4v5.4h-5.4zM264.9 314.8h5.4v5.4h-5.4zM218.7 284.7h5.4v5.4h-5.4zM203.3 277.2h5.4v5.4h-5.4zM209.2 276.6h5.4v5.4h-5.4zM207.9 281.8h5.4v5.4h-5.4zM212.5 282.5h5.4v5.4h-5.4zM216.4 281.2h5.4v5.4h-5.4zM223.0 304.8h5.4v5.4h-5.4zM234.2 312.7h5.4v5.4h-5.4zM240.1 318.0h5.4v5.4h-5.4zM259.1 323.2h5.4v5.4h-5.4zM274.9 323.2h5.4v5.4h-5.4zM237.3 315.3h5.4v5.4h-5.4z" fill="none" stroke="#006400" stroke-width="1.25"/>
<path d="M286.8 318.0l3.65 6.3h-7.3z" fill="none" stroke="#b22222" stroke-width="1.25"/>
<rect x="298.0" y="318.6" width="4" height="9.8" fill="#006400"/></g>
<line x1="192.00" y1="317.10" x2="301.10" y2="317.10" stroke="#8b0000" stroke-width="4" stroke-dasharray="15.6 15.6"/>
<rect x="192.00" y="256.50" width="109.10" height="92.40" fill="none" stroke="#333" stroke-width="1.1"/>
<rect x="310.60" y="256.50" width="109.10" height="92.40" fill="#fff"/>
<line x1="315.20" y1="256.50" x2="315.20" y2="348.90" stroke="#a6a6a6" stroke-width="1.4"/>
<line x1="348.50" y1="256.50" x2="348.50" y2="348.90" stroke="#a6a6a6" stroke-width="1.4"/>
<line x1="381.80" y1="256.50" x2="381.80" y2="348.90" stroke="#a6a6a6" stroke-width="1.4"/>
<line x1="415.10" y1="256.50" x2="415.10" y2="348.90" stroke="#a6a6a6" stroke-width="1.4"/>
<clipPath id="cp22"><rect x="310.60" y="256.50" width="109.10" height="92.40"/></clipPath><g clip-path="url(#cp22)"><path d="M324.3 293.1 L330.7 293.1 L387.6 341.2 L387.6 347.6 L381.2 347.6 L324.3 299.5z" fill="#006400"/>
<path d="M324.3 293.3h5.4v5.4h-5.4zM327.8 295.5h5.4v5.4h-5.4zM330.7 298.6h5.4v5.4h-5.4zM334.6 301.4h5.4v5.4h-5.4zM337.2 305.0h5.4v5.4h-5.4zM340.6 307.5h5.4v5.4h-5.4zM344.0 308.9h5.4v5.4h-5.4zM346.8 312.2h5.4v5.4h-5.4zM350.5 314.7h5.4v5.4h-5.4zM353.6 317.7h5.4v5.4h-5.4zM356.0 320.9h5.4v5.4h-5.4zM358.9 323.5h5.4v5.4h-5.4zM362.2 324.9h5.4v5.4h-5.4zM365.4 328.8h5.4v5.4h-5.4zM369.8 330.2h5.4v5.4h-5.4zM372.2 333.7h5.4v5.4h-5.4zM375.9 335.9h5.4v5.4h-5.4zM378.5 338.8h5.4v5.4h-5.4zM382.2 341.3h5.4v5.4h-5.4zM314.9 285.7h5.4v5.4h-5.4zM317.0 286.8h5.4v5.4h-5.4zM321.7 291.5h5.4v5.4h-5.4z" fill="none" stroke="#006400" stroke-width="1.25"/>
<rect x="416.3" y="345.9" width="4" height="3.5" fill="#006400"/>
<rect x="417.9" y="346.9" width="1.4" height="2.5" fill="#c0302a"/></g>
<line x1="310.60" y1="317.10" x2="419.70" y2="317.10" stroke="#8b0000" stroke-width="4" stroke-dasharray="15.6 15.6"/>
<rect x="310.60" y="256.50" width="109.10" height="92.40" fill="none" stroke="#333" stroke-width="1.1"/>
<rect x="429.20" y="256.50" width="109.10" height="92.40" fill="#fff"/>
<line x1="433.80" y1="256.50" x2="433.80" y2="348.90" stroke="#a6a6a6" stroke-width="1.4"/>
<line x1="467.10" y1="256.50" x2="467.10" y2="348.90" stroke="#a6a6a6" stroke-width="1.4"/>
<line x1="500.40" y1="256.50" x2="500.40" y2="348.90" stroke="#a6a6a6" stroke-width="1.4"/>
<line x1="533.70" y1="256.50" x2="533.70" y2="348.90" stroke="#a6a6a6" stroke-width="1.4"/>
<clipPath id="cp23"><rect x="429.20" y="256.50" width="109.10" height="92.40"/></clipPath><g clip-path="url(#cp23)"><path d="M463.3 287.3 L469.7 287.3 L526.2 334.8 L526.2 341.2 L519.8 341.2 L463.3 293.7z" fill="#006400"/>
<path d="M464.0 287.6h5.4v5.4h-5.4zM466.7 289.9h5.4v5.4h-5.4zM470.6 293.3h5.4v5.4h-5.4zM473.6 295.2h5.4v5.4h-5.4zM476.3 298.8h5.4v5.4h-5.4zM479.6 300.4h5.4v5.4h-5.4zM482.6 304.2h5.4v5.4h-5.4zM485.4 305.8h5.4v5.4h-5.4zM488.6 309.2h5.4v5.4h-5.4zM492.6 311.0h5.4v5.4h-5.4zM494.6 313.8h5.4v5.4h-5.4zM498.1 316.9h5.4v5.4h-5.4zM500.9 319.2h5.4v5.4h-5.4zM504.1 322.9h5.4v5.4h-5.4zM508.1 324.1h5.4v5.4h-5.4zM511.6 326.7h5.4v5.4h-5.4zM513.8 330.8h5.4v5.4h-5.4zM517.6 333.0h5.4v5.4h-5.4zM520.2 334.8h5.4v5.4h-5.4zM455.5 280.5h5.4v5.4h-5.4zM456.8 281.4h5.4v5.4h-5.4zM459.7 282.6h5.4v5.4h-5.4zM459.3 285.1h5.4v5.4h-5.4zM525.8 340.0h5.4v5.4h-5.4z" fill="none" stroke="#006400" stroke-width="1.25"/>
<path d="M528.2 338.4l3.65 6.3h-7.3zM533.6 342.0l3.65 6.3h-7.3z" fill="none" stroke="#b22222" stroke-width="1.25"/>
<rect x="534.9" y="345.9" width="4" height="3.5" fill="#006400"/>
<rect x="536.5" y="346.9" width="1.4" height="2.5" fill="#c0302a"/></g>
<line x1="429.20" y1="317.10" x2="538.30" y2="317.10" stroke="#8b0000" stroke-width="4" stroke-dasharray="15.6 15.6"/>
<rect x="429.20" y="256.50" width="109.10" height="92.40" fill="none" stroke="#333" stroke-width="1.1"/>
<rect x="547.80" y="256.50" width="109.10" height="92.40" fill="#fff"/>
<line x1="552.40" y1="256.50" x2="552.40" y2="348.90" stroke="#a6a6a6" stroke-width="1.4"/>
<line x1="585.70" y1="256.50" x2="585.70" y2="348.90" stroke="#a6a6a6" stroke-width="1.4"/>
<line x1="619.00" y1="256.50" x2="619.00" y2="348.90" stroke="#a6a6a6" stroke-width="1.4"/>
<line x1="652.30" y1="256.50" x2="652.30" y2="348.90" stroke="#a6a6a6" stroke-width="1.4"/>
<clipPath id="cp24"><rect x="547.80" y="256.50" width="109.10" height="92.40"/></clipPath><g clip-path="url(#cp24)"><path d="M571.3 279.3 L577.7 279.3 L638.6 329.6 L638.6 336.0 L632.2 336.0 L571.3 285.7z" fill="#006400"/>
<path d="M571.4 279.7h5.4v5.4h-5.4zM574.8 282.5h5.4v5.4h-5.4zM577.7 285.1h5.4v5.4h-5.4zM581.7 286.8h5.4v5.4h-5.4zM584.3 290.4h5.4v5.4h-5.4zM586.8 292.4h5.4v5.4h-5.4zM590.9 294.1h5.4v5.4h-5.4zM593.2 296.8h5.4v5.4h-5.4zM596.7 300.7h5.4v5.4h-5.4zM599.2 301.7h5.4v5.4h-5.4zM602.4 305.0h5.4v5.4h-5.4zM605.7 307.5h5.4v5.4h-5.4zM608.6 310.6h5.4v5.4h-5.4zM611.4 312.3h5.4v5.4h-5.4zM615.2 314.5h5.4v5.4h-5.4zM617.8 317.3h5.4v5.4h-5.4zM621.0 319.4h5.4v5.4h-5.4zM624.4 322.3h5.4v5.4h-5.4zM625.8 324.7h5.4v5.4h-5.4zM629.5 326.7h5.4v5.4h-5.4zM632.6 330.0h5.4v5.4h-5.4zM559.1 268.1h5.4v5.4h-5.4zM563.8 272.3h5.4v5.4h-5.4zM567.0 274.9h5.4v5.4h-5.4zM569.6 276.5h5.4v5.4h-5.4zM568.6 278.6h5.4v5.4h-5.4zM637.9 334.4h5.4v5.4h-5.4z" fill="none" stroke="#006400" stroke-width="1.25"/>
<path d="M641.8 334.5l3.65 6.3h-7.3zM639.0 333.0l3.65 6.3h-7.3z" fill="none" stroke="#b22222" stroke-width="1.25"/>
<rect x="653.5" y="345.9" width="4" height="3.5" fill="#006400"/>
<rect x="655.1" y="346.9" width="1.4" height="2.5" fill="#c0302a"/></g>
<line x1="547.80" y1="317.10" x2="656.90" y2="317.10" stroke="#8b0000" stroke-width="4" stroke-dasharray="15.6 15.6"/>
<rect x="547.80" y="256.50" width="109.10" height="92.40" fill="none" stroke="#333" stroke-width="1.1"/>
<rect x="73.40" y="358.00" width="109.10" height="92.40" fill="#fff"/>
<line x1="78.00" y1="358.00" x2="78.00" y2="450.40" stroke="#a6a6a6" stroke-width="1.4"/>
<line x1="111.30" y1="358.00" x2="111.30" y2="450.40" stroke="#a6a6a6" stroke-width="1.4"/>
<line x1="144.60" y1="358.00" x2="144.60" y2="450.40" stroke="#a6a6a6" stroke-width="1.4"/>
<line x1="177.90" y1="358.00" x2="177.90" y2="450.40" stroke="#a6a6a6" stroke-width="1.4"/>
<clipPath id="cp30"><rect x="73.40" y="358.00" width="109.10" height="92.40"/></clipPath><g clip-path="url(#cp30)"><path d="M106.4 401.0l3.65 6.3h-7.3zM111.1 401.1l3.65 6.3h-7.3zM114.4 403.1l3.65 6.3h-7.3zM120.1 404.6l3.65 6.3h-7.3zM126.8 408.1l3.65 6.3h-7.3zM129.8 410.3l3.65 6.3h-7.3zM139.3 420.7l3.65 6.3h-7.3zM147.0 421.9l3.65 6.3h-7.3zM153.1 421.3l3.65 6.3h-7.3zM180.0 424.1l3.65 6.3h-7.3z" fill="none" stroke="#b22222" stroke-width="1.25"/>
<path d="M102.1 404.3 L108.7 401.7 L117.9 405.0 L124.4 407.6 L131.0 411.5 L137.6 415.5 L144.1 417.5 L150.7 419.4 L158.6 420.7 L165.0 421.4 L165.0 426.6 L158.6 427.0 L150.7 427.0 L144.1 426.6 L137.6 426.3 L131.0 425.3 L124.4 424.0 L117.9 422.0 L108.7 418.1 L101.4 412.9z" fill="#006400"/>
<path d="M120.7 413.0h5.4v5.4h-5.4zM157.7 419.7h5.4v5.4h-5.4zM107.5 407.7h5.4v5.4h-5.4zM114.4 404.1h5.4v5.4h-5.4zM109.6 401.4h5.4v5.4h-5.4zM112.1 406.3h5.4v5.4h-5.4zM118.6 415.4h5.4v5.4h-5.4zM117.6 411.2h5.4v5.4h-5.4zM110.6 406.2h5.4v5.4h-5.4zM100.5 403.7h5.4v5.4h-5.4zM100.4 407.8h5.4v5.4h-5.4zM134.1 414.5h5.4v5.4h-5.4zM129.3 420.6h5.4v5.4h-5.4zM106.1 411.4h5.4v5.4h-5.4zM126.6 414.5h5.4v5.4h-5.4zM151.9 419.8h5.4v5.4h-5.4zM131.3 418.3h5.4v5.4h-5.4zM161.2 420.2h5.4v5.4h-5.4zM151.8 421.4h5.4v5.4h-5.4zM139.4 417.8h5.4v5.4h-5.4zM121.3 405.9h5.4v5.4h-5.4zM107.6 401.0h5.4v5.4h-5.4zM146.0 418.1h5.4v5.4h-5.4zM109.7 402.0h5.4v5.4h-5.4zM152.3 422.2h5.4v5.4h-5.4zM141.6 417.3h5.4v5.4h-5.4zM114.6 406.9h5.4v5.4h-5.4zM128.3 411.1h5.4v5.4h-5.4zM127.4 411.9h5.4v5.4h-5.4zM159.9 422.5h5.4v5.4h-5.4zM133.8 414.9h5.4v5.4h-5.4zM160.1 420.0h5.4v5.4h-5.4zM121.8 405.4h5.4v5.4h-5.4zM123.4 412.9h5.4v5.4h-5.4zM131.0 413.0h5.4v5.4h-5.4zM84.9 395.0h5.4v5.4h-5.4zM90.8 394.4h5.4v5.4h-5.4zM94.1 388.5h5.4v5.4h-5.4zM96.8 391.8h5.4v5.4h-5.4zM100.7 393.7h5.4v5.4h-5.4zM90.2 400.3h5.4v5.4h-5.4zM95.4 403.6h5.4v5.4h-5.4zM98.7 392.4h5.4v5.4h-5.4zM161.1 422.0h5.4v5.4h-5.4zM95.3 397.3h5.4v5.4h-5.4z" fill="none" stroke="#006400" stroke-width="1.25"/>
<path d="M168.5 421.0l3.65 6.3h-7.3z" fill="none" stroke="#b22222" stroke-width="1.25"/>
<rect x="179.0" y="420.6" width="4" height="9.8" fill="#006400"/></g>
<line x1="73.40" y1="418.60" x2="182.50" y2="418.60" stroke="#8b0000" stroke-width="4" stroke-dasharray="15.6 15.6"/>
<rect x="73.40" y="358.00" width="109.10" height="92.40" fill="none" stroke="#333" stroke-width="1.1"/>
<rect x="192.00" y="358.00" width="109.10" height="92.40" fill="#fff"/>
<line x1="196.60" y1="358.00" x2="196.60" y2="450.40" stroke="#a6a6a6" stroke-width="1.4"/>
<line x1="229.90" y1="358.00" x2="229.90" y2="450.40" stroke="#a6a6a6" stroke-width="1.4"/>
<line x1="263.20" y1="358.00" x2="263.20" y2="450.40" stroke="#a6a6a6" stroke-width="1.4"/>
<line x1="296.50" y1="358.00" x2="296.50" y2="450.40" stroke="#a6a6a6" stroke-width="1.4"/>
<clipPath id="cp31"><rect x="192.00" y="358.00" width="109.10" height="92.40"/></clipPath><g clip-path="url(#cp31)"><path d="M230.3 390.0l3.65 6.3h-7.3zM236.9 393.5l3.65 6.3h-7.3zM226.1 395.6l3.65 6.3h-7.3zM231.8 396.5l3.65 6.3h-7.3zM233.9 396.4l3.65 6.3h-7.3zM238.9 398.7l3.65 6.3h-7.3zM299.0 423.1l3.65 6.3h-7.3z" fill="none" stroke="#b22222" stroke-width="1.25"/>
<path d="M228.0 394.9 L229.0 395.1 L230.0 395.3 L231.0 395.5 L232.0 395.7 L233.0 395.9 L234.0 396.1 L235.0 396.5 L236.0 397.0 L237.0 397.5 L238.0 398.0 L239.0 398.5 L240.0 399.0 L241.0 399.5 L242.0 400.2 L243.0 400.9 L244.0 401.6 L245.0 402.3 L246.0 403.0 L247.0 403.7 L248.0 404.4 L249.0 405.0 L250.0 405.6 L251.0 406.2 L252.0 406.8 L253.0 407.4 L254.0 408.1 L255.0 408.6 L256.0 409.2 L257.0 409.8 L258.0 410.4 L259.0 411.0 L260.0 411.6 L261.0 412.1 L262.0 412.6 L263.0 413.1 L264.0 413.6 L265.0 414.1" fill="none" stroke="#b22222" stroke-width="1.3"/>
<path d="M221.1 398.4 L227.7 396.4 L234.2 397.7 L240.8 401.0 L247.4 405.6 L253.9 409.6 L260.5 413.5 L267.1 416.8 L273.6 418.4 L283.0 419.2 L283.0 428.0 L269.7 428.4 L261.8 428.0 L253.9 427.3 L246.0 426.0 L239.5 424.0 L232.9 420.7 L226.3 416.8 L220.4 410.2z" fill="#006400"/>
<path d="M244.2 415.0h5.4v5.4h-5.4zM260.1 421.2h5.4v5.4h-5.4zM270.8 421.6h5.4v5.4h-5.4zM225.9 411.0h5.4v5.4h-5.4zM236.6 410.5h5.4v5.4h-5.4zM241.5 416.2h5.4v5.4h-5.4zM230.7 401.0h5.4v5.4h-5.4zM233.6 400.2h5.4v5.4h-5.4zM273.1 421.0h5.4v5.4h-5.4zM238.6 407.8h5.4v5.4h-5.4zM279.8 420.7h5.4v5.4h-5.4zM232.7 413.8h5.4v5.4h-5.4zM258.8 423.8h5.4v5.4h-5.4zM224.7 403.6h5.4v5.4h-5.4zM269.1 422.9h5.4v5.4h-5.4zM275.0 417.2h5.4v5.4h-5.4zM236.6 401.0h5.4v5.4h-5.4zM230.1 416.0h5.4v5.4h-5.4zM254.5 422.5h5.4v5.4h-5.4zM241.4 418.7h5.4v5.4h-5.4zM246.2 409.3h5.4v5.4h-5.4zM266.5 423.8h5.4v5.4h-5.4zM224.9 405.9h5.4v5.4h-5.4zM256.8 413.8h5.4v5.4h-5.4zM241.2 404.2h5.4v5.4h-5.4zM231.0 401.2h5.4v5.4h-5.4zM255.5 419.0h5.4v5.4h-5.4zM231.0 396.0h5.4v5.4h-5.4zM238.7 413.8h5.4v5.4h-5.4zM229.9 402.1h5.4v5.4h-5.4zM231.0 412.7h5.4v5.4h-5.4zM252.3 409.4h5.4v5.4h-5.4zM224.7 402.1h5.4v5.4h-5.4zM252.5 418.0h5.4v5.4h-5.4zM224.0 397.8h5.4v5.4h-5.4zM203.3 392.4h5.4v5.4h-5.4zM208.5 391.8h5.4v5.4h-5.4zM212.5 385.8h5.4v5.4h-5.4zM209.2 397.0h5.4v5.4h-5.4zM214.4 401.0h5.4v5.4h-5.4zM218.4 390.4h5.4v5.4h-5.4zM221.0 399.6h5.4v5.4h-5.4zM276.2 423.3h5.4v5.4h-5.4zM215.3 394.3h5.4v5.4h-5.4z" fill="none" stroke="#006400" stroke-width="1.25"/>
<path d="M286.8 419.4l3.65 6.3h-7.3z" fill="none" stroke="#b22222" stroke-width="1.25"/>
<rect x="298.0" y="419.6" width="4" height="9.8" fill="#006400"/></g>
<line x1="192.00" y1="418.60" x2="301.10" y2="418.60" stroke="#8b0000" stroke-width="4" stroke-dasharray="15.6 15.6"/>
<rect x="192.00" y="358.00" width="109.10" height="92.40" fill="none" stroke="#333" stroke-width="1.1"/>
<rect x="310.60" y="358.00" width="109.10" height="92.40" fill="#fff"/>
<line x1="315.20" y1="358.00" x2="315.20" y2="450.40" stroke="#a6a6a6" stroke-width="1.4"/>
<line x1="348.50" y1="358.00" x2="348.50" y2="450.40" stroke="#a6a6a6" stroke-width="1.4"/>
<line x1="381.80" y1="358.00" x2="381.80" y2="450.40" stroke="#a6a6a6" stroke-width="1.4"/>
<line x1="415.10" y1="358.00" x2="415.10" y2="450.40" stroke="#a6a6a6" stroke-width="1.4"/>
<clipPath id="cp32"><rect x="310.60" y="358.00" width="109.10" height="92.40"/></clipPath><g clip-path="url(#cp32)"><path d="M326.5 404.8 L334.7 406.0 L344.6 406.9 L351.2 412.2 L358.2 418.1 L366.5 424.7 L374.7 432.2 L381.3 438.8 L385.5 442.9 L385.5 447.4 L374.7 447.8 L369.0 445.4 L362.4 441.2 L354.1 434.6 L350.0 432.2 L344.6 427.1 L337.2 420.5 L330.6 415.5 L324.8 409.7z" fill="#006400"/>
<path d="M339.4 405.5h5.4v5.4h-5.4zM361.9 431.2h5.4v5.4h-5.4zM344.5 419.1h5.4v5.4h-5.4zM350.0 428.6h5.4v5.4h-5.4zM367.1 430.2h5.4v5.4h-5.4zM377.1 436.3h5.4v5.4h-5.4zM355.2 423.4h5.4v5.4h-5.4zM337.8 406.1h5.4v5.4h-5.4zM369.8 429.0h5.4v5.4h-5.4zM356.3 433.4h5.4v5.4h-5.4zM332.2 406.7h5.4v5.4h-5.4zM359.7 428.7h5.4v5.4h-5.4zM361.7 435.2h5.4v5.4h-5.4zM334.1 408.4h5.4v5.4h-5.4zM341.5 406.4h5.4v5.4h-5.4zM376.3 441.7h5.4v5.4h-5.4zM366.0 425.5h5.4v5.4h-5.4zM373.6 440.8h5.4v5.4h-5.4zM351.3 426.0h5.4v5.4h-5.4zM350.5 416.5h5.4v5.4h-5.4zM316.4 390.5h5.4v5.4h-5.4zM315.5 396.3h5.4v5.4h-5.4zM315.1 393.8h5.4v5.4h-5.4zM320.5 402.5h5.4v5.4h-5.4zM327.9 397.6h5.4v5.4h-5.4zM327.9 399.6h5.4v5.4h-5.4zM355.5 433.6h5.4v5.4h-5.4zM362.1 439.8h5.4v5.4h-5.4zM368.7 441.8h5.4v5.4h-5.4zM372.0 443.5h5.4v5.4h-5.4zM379.5 441.0h5.4v5.4h-5.4z" fill="none" stroke="#006400" stroke-width="1.25"/>
<path d="M376.4 442.6l3.65 6.3h-7.3zM387.1 443.0l3.65 6.3h-7.3zM373.1 442.2l3.65 6.3h-7.3z" fill="none" stroke="#b22222" stroke-width="1.25"/>
<rect x="416.3" y="447.4" width="4" height="3.5" fill="#006400"/>
<rect x="417.9" y="448.4" width="1.4" height="2.5" fill="#c0302a"/></g>
<line x1="310.60" y1="418.60" x2="419.70" y2="418.60" stroke="#8b0000" stroke-width="4" stroke-dasharray="15.6 15.6"/>
<rect x="310.60" y="358.00" width="109.10" height="92.40" fill="none" stroke="#333" stroke-width="1.1"/>
<rect x="429.20" y="358.00" width="109.10" height="92.40" fill="#fff"/>
<line x1="433.80" y1="358.00" x2="433.80" y2="450.40" stroke="#a6a6a6" stroke-width="1.4"/>
<line x1="467.10" y1="358.00" x2="467.10" y2="450.40" stroke="#a6a6a6" stroke-width="1.4"/>
<line x1="500.40" y1="358.00" x2="500.40" y2="450.40" stroke="#a6a6a6" stroke-width="1.4"/>
<line x1="533.70" y1="358.00" x2="533.70" y2="450.40" stroke="#a6a6a6" stroke-width="1.4"/>
<clipPath id="cp33"><rect x="429.20" y="358.00" width="109.10" height="92.40"/></clipPath><g clip-path="url(#cp33)"><path d="M477.2 395.0l3.65 6.3h-7.3zM497.4 425.5l3.65 6.3h-7.3z" fill="none" stroke="#b22222" stroke-width="1.25"/>
<path d="M462.4 396.5 L470.6 396.5 L478.9 397.4 L483.0 399.8 L491.2 406.4 L498.2 412.4 L506.5 419.8 L514.7 426.4 L523.0 433.0 L527.1 436.3 L531.2 441.2 L531.2 447.8 L518.9 447.8 L513.1 443.7 L506.5 437.9 L498.2 432.2 L490.0 426.4 L487.1 424.6 L478.9 417.2 L470.6 408.9 L463.2 404.0z" fill="#006400"/>
<path d="M467.7 397.4h5.4v5.4h-5.4zM463.1 397.4h5.4v5.4h-5.4zM511.5 435.6h5.4v5.4h-5.4zM518.0 439.7h5.4v5.4h-5.4zM478.6 407.3h5.4v5.4h-5.4zM490.2 420.6h5.4v5.4h-5.4zM496.1 416.1h5.4v5.4h-5.4zM504.2 433.6h5.4v5.4h-5.4zM475.3 410.2h5.4v5.4h-5.4zM461.5 396.6h5.4v5.4h-5.4zM476.6 409.0h5.4v5.4h-5.4zM524.7 441.6h5.4v5.4h-5.4zM482.7 416.8h5.4v5.4h-5.4zM482.8 405.0h5.4v5.4h-5.4zM522.2 439.8h5.4v5.4h-5.4zM507.6 431.9h5.4v5.4h-5.4zM527.1 440.8h5.4v5.4h-5.4zM517.6 439.4h5.4v5.4h-5.4zM518.8 436.3h5.4v5.4h-5.4zM509.8 432.3h5.4v5.4h-5.4zM455.5 391.8h5.4v5.4h-5.4zM458.0 396.3h5.4v5.4h-5.4zM467.1 391.4h5.4v5.4h-5.4zM472.0 393.0h5.4v5.4h-5.4zM526.1 441.4h5.4v5.4h-5.4z" fill="none" stroke="#006400" stroke-width="1.25"/>
<path d="M523.0 430.6l3.65 6.3h-7.3zM528.8 435.6l3.65 6.3h-7.3zM532.9 443.0l3.65 6.3h-7.3z" fill="none" stroke="#b22222" stroke-width="1.25"/>
<rect x="534.9" y="447.4" width="4" height="3.5" fill="#006400"/>
<rect x="536.5" y="448.4" width="1.4" height="2.5" fill="#c0302a"/></g>
<line x1="429.20" y1="418.60" x2="538.30" y2="418.60" stroke="#8b0000" stroke-width="4" stroke-dasharray="15.6 15.6"/>
<rect x="429.20" y="358.00" width="109.10" height="92.40" fill="none" stroke="#333" stroke-width="1.1"/>
<rect x="547.80" y="358.00" width="109.10" height="92.40" fill="#fff"/>
<line x1="552.40" y1="358.00" x2="552.40" y2="450.40" stroke="#a6a6a6" stroke-width="1.4"/>
<line x1="585.70" y1="358.00" x2="585.70" y2="450.40" stroke="#a6a6a6" stroke-width="1.4"/>
<line x1="619.00" y1="358.00" x2="619.00" y2="450.40" stroke="#a6a6a6" stroke-width="1.4"/>
<line x1="652.30" y1="358.00" x2="652.30" y2="450.40" stroke="#a6a6a6" stroke-width="1.4"/>
<clipPath id="cp34"><rect x="547.80" y="358.00" width="109.10" height="92.40"/></clipPath><g clip-path="url(#cp34)"><path d="M579.7 389.0 L589.6 389.4 L596.2 394.7 L600.0 398.3 L608.2 404.9 L616.5 411.5 L624.7 418.9 L633.0 426.3 L636.3 430.5 L636.3 442.0 L633.0 442.0 L624.7 437.9 L620.6 432.1 L611.5 428.0 L604.1 423.0 L600.0 418.9 L594.6 413.7 L588.0 408.8 L579.7 401.3 L575.6 398.0z" fill="#006400"/>
<path d="M594.4 398.0h5.4v5.4h-5.4zM612.2 410.2h5.4v5.4h-5.4zM628.6 425.4h5.4v5.4h-5.4zM578.5 388.9h5.4v5.4h-5.4zM629.6 428.9h5.4v5.4h-5.4zM585.0 388.5h5.4v5.4h-5.4zM579.4 395.8h5.4v5.4h-5.4zM612.9 420.8h5.4v5.4h-5.4zM618.7 415.6h5.4v5.4h-5.4zM610.4 413.7h5.4v5.4h-5.4zM623.3 431.6h5.4v5.4h-5.4zM627.4 423.4h5.4v5.4h-5.4zM626.1 434.6h5.4v5.4h-5.4zM630.4 426.6h5.4v5.4h-5.4zM588.6 391.5h5.4v5.4h-5.4zM578.9 397.3h5.4v5.4h-5.4zM623.0 428.5h5.4v5.4h-5.4zM623.7 428.9h5.4v5.4h-5.4zM593.3 395.0h5.4v5.4h-5.4zM582.5 398.7h5.4v5.4h-5.4zM559.3 379.7h5.4v5.4h-5.4zM568.4 376.4h5.4v5.4h-5.4zM565.5 381.7h5.4v5.4h-5.4zM564.7 385.0h5.4v5.4h-5.4zM569.6 388.7h5.4v5.4h-5.4zM572.9 381.3h5.4v5.4h-5.4zM570.0 378.4h5.4v5.4h-5.4zM574.6 386.3h5.4v5.4h-5.4zM579.5 384.6h5.4v5.4h-5.4zM575.4 392.9h5.4v5.4h-5.4zM610.5 425.3h5.4v5.4h-5.4zM618.7 427.8h5.4v5.4h-5.4zM620.4 432.7h5.4v5.4h-5.4zM630.3 438.5h5.4v5.4h-5.4zM637.7 435.2h5.4v5.4h-5.4z" fill="none" stroke="#006400" stroke-width="1.25"/>
<path d="M641.2 434.7l3.65 6.3h-7.3zM643.7 437.2l3.65 6.3h-7.3zM640.4 439.7l3.65 6.3h-7.3zM637.1 429.8l3.65 6.3h-7.3z" fill="none" stroke="#b22222" stroke-width="1.25"/>
<rect x="653.5" y="447.4" width="4" height="3.5" fill="#006400"/>
<rect x="655.1" y="448.4" width="1.4" height="2.5" fill="#c0302a"/></g>
<line x1="547.80" y1="418.60" x2="656.90" y2="418.60" stroke="#8b0000" stroke-width="4" stroke-dasharray="15.6 15.6"/>
<rect x="547.80" y="358.00" width="109.10" height="92.40" fill="none" stroke="#333" stroke-width="1.1"/>
<rect x="73.40" y="459.50" width="109.10" height="92.40" fill="#fff"/>
<line x1="78.00" y1="459.50" x2="78.00" y2="551.90" stroke="#a6a6a6" stroke-width="1.4"/>
<line x1="111.30" y1="459.50" x2="111.30" y2="551.90" stroke="#a6a6a6" stroke-width="1.4"/>
<line x1="144.60" y1="459.50" x2="144.60" y2="551.90" stroke="#a6a6a6" stroke-width="1.4"/>
<line x1="177.90" y1="459.50" x2="177.90" y2="551.90" stroke="#a6a6a6" stroke-width="1.4"/>
<clipPath id="cp40"><rect x="73.40" y="459.50" width="109.10" height="92.40"/></clipPath><g clip-path="url(#cp40)"><path d="M121.0 515.7l3.65 6.3h-7.3zM125.5 517.6l3.65 6.3h-7.3zM124.2 521.3l3.65 6.3h-7.3zM129.3 521.9l3.65 6.3h-7.3zM135.2 522.7l3.65 6.3h-7.3zM140.9 523.7l3.65 6.3h-7.3zM147.0 523.5l3.65 6.3h-7.3zM180.0 525.1l3.65 6.3h-7.3z" fill="none" stroke="#b22222" stroke-width="1.25"/>
<path d="M98.1 505.3 L104.7 508.0 L111.3 512.5 L117.9 516.2 L124.4 518.5 L131.0 519.8 L137.6 520.4 L144.1 521.1 L150.7 521.7 L158.6 522.4 L165.0 523.0 L165.0 528.3 L158.6 528.6 L150.7 529.0 L144.1 529.0 L137.6 528.6 L131.0 527.6 L124.4 526.3 L117.9 524.4 L111.3 520.4 L104.7 515.2 L97.5 509.3z" fill="#006400"/>
<path d="M98.3 507.6h5.4v5.4h-5.4zM155.1 523.2h5.4v5.4h-5.4zM144.5 524.0h5.4v5.4h-5.4zM104.7 511.0h5.4v5.4h-5.4zM129.1 522.8h5.4v5.4h-5.4zM149.2 524.1h5.4v5.4h-5.4zM134.5 523.9h5.4v5.4h-5.4zM141.1 523.3h5.4v5.4h-5.4zM110.8 512.6h5.4v5.4h-5.4zM104.3 509.9h5.4v5.4h-5.4zM102.4 510.7h5.4v5.4h-5.4zM132.8 522.2h5.4v5.4h-5.4zM137.3 523.0h5.4v5.4h-5.4zM128.1 518.5h5.4v5.4h-5.4zM148.8 523.8h5.4v5.4h-5.4zM129.0 521.3h5.4v5.4h-5.4zM139.5 519.9h5.4v5.4h-5.4zM144.7 521.3h5.4v5.4h-5.4zM100.4 507.0h5.4v5.4h-5.4zM144.2 521.0h5.4v5.4h-5.4zM144.9 524.8h5.4v5.4h-5.4zM128.4 520.4h5.4v5.4h-5.4zM127.4 521.8h5.4v5.4h-5.4zM146.7 523.1h5.4v5.4h-5.4zM138.4 519.9h5.4v5.4h-5.4zM85.6 496.0h5.4v5.4h-5.4zM89.5 500.0h5.4v5.4h-5.4zM92.2 502.6h5.4v5.4h-5.4zM94.8 503.9h5.4v5.4h-5.4zM96.8 506.6h5.4v5.4h-5.4zM161.1 523.0h5.4v5.4h-5.4z" fill="none" stroke="#006400" stroke-width="1.25"/>
<path d="M168.5 522.0l3.65 6.3h-7.3z" fill="none" stroke="#b22222" stroke-width="1.25"/>
<rect x="179.0" y="521.6" width="4" height="9.8" fill="#006400"/></g>
<line x1="73.40" y1="520.10" x2="182.50" y2="520.10" stroke="#8b0000" stroke-width="4" stroke-dasharray="15.6 15.6"/>
<rect x="73.40" y="459.50" width="109.10" height="92.40" fill="none" stroke="#333" stroke-width="1.1"/>
<rect x="192.00" y="459.50" width="109.10" height="92.40" fill="#fff"/>
<line x1="196.60" y1="459.50" x2="196.60" y2="551.90" stroke="#a6a6a6" stroke-width="1.4"/>
<line x1="229.90" y1="459.50" x2="229.90" y2="551.90" stroke="#a6a6a6" stroke-width="1.4"/>
<line x1="263.20" y1="459.50" x2="263.20" y2="551.90" stroke="#a6a6a6" stroke-width="1.4"/>
<line x1="296.50" y1="459.50" x2="296.50" y2="551.90" stroke="#a6a6a6" stroke-width="1.4"/>
<clipPath id="cp41"><rect x="192.00" y="459.50" width="109.10" height="92.40"/></clipPath><g clip-path="url(#cp41)"><path d="M299.0 524.1l3.65 6.3h-7.3z" fill="none" stroke="#b22222" stroke-width="1.25"/>
<path d="M224.0 504.4 L225.0 504.5 L226.0 505.2 L227.0 505.9 L228.0 506.6 L229.0 507.3 L230.0 508.0 L231.0 508.7 L232.0 509.3 L233.0 509.9 L234.0 510.5 L235.0 511.1 L236.0 511.7 L237.0 512.3 L238.0 512.9 L239.0 513.3 L240.0 513.7 L241.0 514.1 L242.0 514.5 L243.0 514.9 L244.0 515.3 L245.0 515.7 L246.0 515.9 L247.0 516.2 L248.0 516.5 L249.0 516.7 L250.0 517.0" fill="none" stroke="#b22222" stroke-width="1.3"/>
<path d="M218.5 505.3 L225.0 506.0 L231.6 510.6 L238.2 514.5 L244.7 517.1 L251.3 518.8 L257.9 519.8 L264.4 520.2 L271.0 520.4 L283.0 520.7 L283.0 530.0 L269.7 530.7 L263.1 530.7 L256.6 530.3 L250.0 529.4 L243.4 527.6 L236.9 525.0 L230.3 521.1 L223.7 516.5 L217.1 510.6z" fill="#006400"/>
<path d="M260.7 522.1h5.4v5.4h-5.4zM234.1 515.2h5.4v5.4h-5.4zM277.3 521.6h5.4v5.4h-5.4zM252.3 521.0h5.4v5.4h-5.4zM242.7 522.6h5.4v5.4h-5.4zM280.1 521.9h5.4v5.4h-5.4zM228.5 515.0h5.4v5.4h-5.4zM228.9 509.9h5.4v5.4h-5.4zM274.0 522.3h5.4v5.4h-5.4zM268.7 522.2h5.4v5.4h-5.4zM272.7 522.5h5.4v5.4h-5.4zM226.3 508.1h5.4v5.4h-5.4zM251.4 522.9h5.4v5.4h-5.4zM274.5 520.3h5.4v5.4h-5.4zM255.9 521.6h5.4v5.4h-5.4zM248.3 519.0h5.4v5.4h-5.4zM234.1 516.7h5.4v5.4h-5.4zM275.5 520.4h5.4v5.4h-5.4zM247.4 523.4h5.4v5.4h-5.4zM278.2 521.0h5.4v5.4h-5.4zM224.0 513.5h5.4v5.4h-5.4zM278.7 522.6h5.4v5.4h-5.4zM219.2 509.9h5.4v5.4h-5.4zM240.8 522.3h5.4v5.4h-5.4zM255.8 524.6h5.4v5.4h-5.4zM203.9 493.4h5.4v5.4h-5.4zM208.5 497.4h5.4v5.4h-5.4zM211.8 500.0h5.4v5.4h-5.4zM214.4 502.6h5.4v5.4h-5.4zM276.2 526.3h5.4v5.4h-5.4z" fill="none" stroke="#006400" stroke-width="1.25"/>
<path d="M286.8 520.4l3.65 6.3h-7.3z" fill="none" stroke="#b22222" stroke-width="1.25"/>
<rect x="298.0" y="520.6" width="4" height="9.8" fill="#006400"/></g>
<line x1="192.00" y1="520.10" x2="301.10" y2="520.10" stroke="#8b0000" stroke-width="4" stroke-dasharray="15.6 15.6"/>
<rect x="192.00" y="459.50" width="109.10" height="92.40" fill="none" stroke="#333" stroke-width="1.1"/>
<rect x="310.60" y="459.50" width="109.10" height="92.40" fill="#fff"/>
<line x1="315.20" y1="459.50" x2="315.20" y2="551.90" stroke="#a6a6a6" stroke-width="1.4"/>
<line x1="348.50" y1="459.50" x2="348.50" y2="551.90" stroke="#a6a6a6" stroke-width="1.4"/>
<line x1="381.80" y1="459.50" x2="381.80" y2="551.90" stroke="#a6a6a6" stroke-width="1.4"/>
<line x1="415.10" y1="459.50" x2="415.10" y2="551.90" stroke="#a6a6a6" stroke-width="1.4"/>
<clipPath id="cp42"><rect x="310.60" y="459.50" width="109.10" height="92.40"/></clipPath><g clip-path="url(#cp42)"><path d="M376.5 544.5l3.65 6.3h-7.3z" fill="none" stroke="#b22222" stroke-width="1.25"/>
<path d="M324.0 506.0 L330.4 506.0 L374.9 543.3 L374.9 549.7 L368.5 549.7 L324.0 512.4z" fill="#006400"/>
<path d="M325.2 506.2h5.4v5.4h-5.4zM327.2 509.5h5.4v5.4h-5.4zM330.9 511.2h5.4v5.4h-5.4zM334.3 513.8h5.4v5.4h-5.4zM337.7 517.5h5.4v5.4h-5.4zM340.9 520.0h5.4v5.4h-5.4zM343.3 522.3h5.4v5.4h-5.4zM346.6 525.8h5.4v5.4h-5.4zM349.3 528.4h5.4v5.4h-5.4zM352.3 530.0h5.4v5.4h-5.4zM355.9 533.8h5.4v5.4h-5.4zM359.5 535.6h5.4v5.4h-5.4zM363.3 538.0h5.4v5.4h-5.4zM365.8 541.2h5.4v5.4h-5.4zM369.4 544.2h5.4v5.4h-5.4zM315.4 498.0h5.4v5.4h-5.4zM316.8 499.1h5.4v5.4h-5.4zM321.8 503.9h5.4v5.4h-5.4z" fill="none" stroke="#006400" stroke-width="1.25"/>
<rect x="416.3" y="548.9" width="4" height="3.5" fill="#006400"/>
<rect x="417.9" y="549.9" width="1.4" height="2.5" fill="#c0302a"/></g>
<line x1="310.60" y1="520.10" x2="419.70" y2="520.10" stroke="#8b0000" stroke-width="4" stroke-dasharray="15.6 15.6"/>
<rect x="310.60" y="459.50" width="109.10" height="92.40" fill="none" stroke="#333" stroke-width="1.1"/>
<rect x="429.20" y="459.50" width="109.10" height="92.40" fill="#fff"/>
<line x1="433.80" y1="459.50" x2="433.80" y2="551.90" stroke="#a6a6a6" stroke-width="1.4"/>
<line x1="467.10" y1="459.50" x2="467.10" y2="551.90" stroke="#a6a6a6" stroke-width="1.4"/>
<line x1="500.40" y1="459.50" x2="500.40" y2="551.90" stroke="#a6a6a6" stroke-width="1.4"/>
<line x1="533.70" y1="459.50" x2="533.70" y2="551.90" stroke="#a6a6a6" stroke-width="1.4"/>
<clipPath id="cp43"><rect x="429.20" y="459.50" width="109.10" height="92.40"/></clipPath><g clip-path="url(#cp43)"><path d="M463.1 499.8 L469.5 499.8 L522.6 544.1 L522.6 550.5 L516.2 550.5 L463.1 506.2z" fill="#006400"/>
<path d="M463.8 499.7h5.4v5.4h-5.4zM466.3 502.7h5.4v5.4h-5.4zM469.1 505.4h5.4v5.4h-5.4zM473.4 508.4h5.4v5.4h-5.4zM476.1 510.9h5.4v5.4h-5.4zM479.2 512.8h5.4v5.4h-5.4zM482.5 515.8h5.4v5.4h-5.4zM485.9 519.2h5.4v5.4h-5.4zM488.5 521.3h5.4v5.4h-5.4zM492.1 523.6h5.4v5.4h-5.4zM494.4 526.7h5.4v5.4h-5.4zM498.6 529.4h5.4v5.4h-5.4zM501.4 532.1h5.4v5.4h-5.4zM504.5 534.4h5.4v5.4h-5.4zM507.3 536.5h5.4v5.4h-5.4zM510.7 538.7h5.4v5.4h-5.4zM513.4 542.4h5.4v5.4h-5.4zM517.0 544.8h5.4v5.4h-5.4zM455.7 492.8h5.4v5.4h-5.4zM458.8 495.9h5.4v5.4h-5.4zM461.5 495.4h5.4v5.4h-5.4z" fill="none" stroke="#006400" stroke-width="1.25"/>
<rect x="534.9" y="548.9" width="4" height="3.5" fill="#006400"/>
<rect x="536.5" y="549.9" width="1.4" height="2.5" fill="#c0302a"/></g>
<line x1="429.20" y1="520.10" x2="538.30" y2="520.10" stroke="#8b0000" stroke-width="4" stroke-dasharray="15.6 15.6"/>
<rect x="429.20" y="459.50" width="109.10" height="92.40" fill="none" stroke="#333" stroke-width="1.1"/>
<rect x="547.80" y="459.50" width="109.10" height="92.40" fill="#fff"/>
<line x1="552.40" y1="459.50" x2="552.40" y2="551.90" stroke="#a6a6a6" stroke-width="1.4"/>
<line x1="585.70" y1="459.50" x2="585.70" y2="551.90" stroke="#a6a6a6" stroke-width="1.4"/>
<line x1="619.00" y1="459.50" x2="619.00" y2="551.90" stroke="#a6a6a6" stroke-width="1.4"/>
<line x1="652.30" y1="459.50" x2="652.30" y2="551.90" stroke="#a6a6a6" stroke-width="1.4"/>
<clipPath id="cp44"><rect x="547.80" y="459.50" width="109.10" height="92.40"/></clipPath><g clip-path="url(#cp44)"><path d="M571.3 492.3 L577.7 492.3 L638.6 542.0 L638.6 548.4 L632.2 548.4 L571.3 498.7z" fill="#006400"/>
<path d="M572.2 492.5h5.4v5.4h-5.4zM574.4 494.8h5.4v5.4h-5.4zM578.3 498.6h5.4v5.4h-5.4zM581.0 499.7h5.4v5.4h-5.4zM584.5 502.5h5.4v5.4h-5.4zM586.5 504.6h5.4v5.4h-5.4zM590.6 508.3h5.4v5.4h-5.4zM593.4 510.1h5.4v5.4h-5.4zM596.3 512.2h5.4v5.4h-5.4zM600.0 514.9h5.4v5.4h-5.4zM602.5 518.2h5.4v5.4h-5.4zM605.9 520.1h5.4v5.4h-5.4zM608.0 522.7h5.4v5.4h-5.4zM610.7 525.7h5.4v5.4h-5.4zM614.2 528.2h5.4v5.4h-5.4zM617.1 529.9h5.4v5.4h-5.4zM620.1 532.4h5.4v5.4h-5.4zM623.0 534.1h5.4v5.4h-5.4zM627.0 537.1h5.4v5.4h-5.4zM629.2 539.7h5.4v5.4h-5.4zM632.7 542.4h5.4v5.4h-5.4zM559.6 480.7h5.4v5.4h-5.4zM564.4 484.9h5.4v5.4h-5.4zM567.0 487.5h5.4v5.4h-5.4zM569.6 489.1h5.4v5.4h-5.4z" fill="none" stroke="#006400" stroke-width="1.25"/>
<rect x="653.5" y="548.9" width="4" height="3.5" fill="#006400"/>
<rect x="655.1" y="549.9" width="1.4" height="2.5" fill="#c0302a"/></g>
<line x1="547.80" y1="520.10" x2="656.90" y2="520.10" stroke="#8b0000" stroke-width="4" stroke-dasharray="15.6 15.6"/>
<rect x="547.80" y="459.50" width="109.10" height="92.40" fill="none" stroke="#333" stroke-width="1.1"/>
<line x1="69" y1="57.70" x2="73.40" y2="57.70" stroke="#333" stroke-width="1.1"/>
<text x="64.8" y="62.40" font-family="Liberation Sans, sans-serif" font-weight="bold" font-size="13.1" fill="#000" text-anchor="end">1e+04</text>
<line x1="69" y1="85.90" x2="73.40" y2="85.90" stroke="#333" stroke-width="1.1"/>
<text x="64.8" y="90.60" font-family="Liberation Sans, sans-serif" font-weight="bold" font-size="13.1" fill="#000" text-anchor="end">1e+02</text>
<line x1="69" y1="114.10" x2="73.40" y2="114.10" stroke="#333" stroke-width="1.1"/>
<text x="64.8" y="118.80" font-family="Liberation Sans, sans-serif" font-weight="bold" font-size="13.1" fill="#000" text-anchor="end">1e+00</text>
<line x1="69" y1="142.30" x2="73.40" y2="142.30" stroke="#333" stroke-width="1.1"/>
<text x="64.8" y="147.00" font-family="Liberation Sans, sans-serif" font-weight="bold" font-size="13.1" fill="#000" text-anchor="end">1e-02</text>
<line x1="69" y1="159.20" x2="73.40" y2="159.20" stroke="#333" stroke-width="1.1"/>
<text x="64.8" y="163.90" font-family="Liberation Sans, sans-serif" font-weight="bold" font-size="13.1" fill="#000" text-anchor="end">1e+04</text>
<line x1="69" y1="187.40" x2="73.40" y2="187.40" stroke="#333" stroke-width="1.1"/>
<text x="64.8" y="192.10" font-family="Liberation Sans, sans-serif" font-weight="bold" font-size="13.1" fill="#000" text-anchor="end">1e+02</text>
<line x1="69" y1="215.60" x2="73.40" y2="215.60" stroke="#333" stroke-width="1.1"/>
<text x="64.8" y="220.30" font-family="Liberation Sans, sans-serif" font-weight="bold" font-size="13.1" fill="#000" text-anchor="end">1e+00</text>
<line x1="69" y1="243.80" x2="73.40" y2="243.80" stroke="#333" stroke-width="1.1"/>
<text x="64.8" y="248.50" font-family="Liberation Sans, sans-serif" font-weight="bold" font-size="13.1" fill="#000" text-anchor="end">1e-02</text>
<line x1="69" y1="260.70" x2="73.40" y2="260.70" stroke="#333" stroke-width="1.1"/>
<text x="64.8" y="265.40" font-family="Liberation Sans, sans-serif" font-weight="bold" font-size="13.1" fill="#000" text-anchor="end">1e+04</text>
<line x1="69" y1="288.90" x2="73.40" y2="288.90" stroke="#333" stroke-width="1.1"/>
<text x="64.8" y="293.60" font-family="Liberation Sans, sans-serif" font-weight="bold" font-size="13.1" fill="#000" text-anchor="end">1e+02</text>
<line x1="69" y1="317.10" x2="73.40" y2="317.10" stroke="#333" stroke-width="1.1"/>
<text x="64.8" y="321.80" font-family="Liberation Sans, sans-serif" font-weight="bold" font-size="13.1" fill="#000" text-anchor="end">1e+00</text>
<line x1="69" y1="345.30" x2="73.40" y2="345.30" stroke="#333" stroke-width="1.1"/>
<text x="64.8" y="350.00" font-family="Liberation Sans, sans-serif" font-weight="bold" font-size="13.1" fill="#000" text-anchor="end">1e-02</text>
<line x1="69" y1="362.20" x2="73.40" y2="362.20" stroke="#333" stroke-width="1.1"/>
<text x="64.8" y="366.90" font-family="Liberation Sans, sans-serif" font-weight="bold" font-size="13.1" fill="#000" text-anchor="end">1e+04</text>
<line x1="69" y1="390.40" x2="73.40" y2="390.40" stroke="#333" stroke-width="1.1"/>
<text x="64.8" y="395.10" font-family="Liberation Sans, sans-serif" font-weight="bold" font-size="13.1" fill="#000" text-anchor="end">1e+02</text>
<line x1="69" y1="418.60" x2="73.40" y2="418.60" stroke="#333" stroke-width="1.1"/>
<text x="64.8" y="423.30" font-family="Liberation Sans, sans-serif" font-weight="bold" font-size="13.1" fill="#000" text-anchor="end">1e+00</text>
<line x1="69" y1="446.80" x2="73.40" y2="446.80" stroke="#333" stroke-width="1.1"/>
<text x="64.8" y="451.50" font-family="Liberation Sans, sans-serif" font-weight="bold" font-size="13.1" fill="#000" text-anchor="end">1e-02</text>
<line x1="69" y1="463.70" x2="73.40" y2="463.70" stroke="#333" stroke-width="1.1"/>
<text x="64.8" y="468.40" font-family="Liberation Sans, sans-serif" font-weight="bold" font-size="13.1" fill="#000" text-anchor="end">1e+04</text>
<line x1="69" y1="491.90" x2="73.40" y2="491.90" stroke="#333" stroke-width="1.1"/>
<text x="64.8" y="496.60" font-family="Liberation Sans, sans-serif" font-weight="bold" font-size="13.1" fill="#000" text-anchor="end">1e+02</text>
<line x1="69" y1="520.10" x2="73.40" y2="520.10" stroke="#333" stroke-width="1.1"/>
<text x="64.8" y="524.80" font-family="Liberation Sans, sans-serif" font-weight="bold" font-size="13.1" fill="#000" text-anchor="end">1e+00</text>
<line x1="69" y1="548.30" x2="73.40" y2="548.30" stroke="#333" stroke-width="1.1"/>
<text x="64.8" y="553.00" font-family="Liberation Sans, sans-serif" font-weight="bold" font-size="13.1" fill="#000" text-anchor="end">1e-02</text>
<line x1="78.00" y1="551.90" x2="78.00" y2="556.10" stroke="#333" stroke-width="1.1"/>
<text transform="translate(82.50,561.50) rotate(-90)" font-family="Liberation Sans, sans-serif" font-weight="bold" font-size="13.1" fill="#000" text-anchor="end">1e-02</text>
<line x1="111.30" y1="551.90" x2="111.30" y2="556.10" stroke="#333" stroke-width="1.1"/>
<text transform="translate(115.80,561.50) rotate(-90)" font-family="Liberation Sans, sans-serif" font-weight="bold" font-size="13.1" fill="#000" text-anchor="end">1e+00</text>
<line x1="144.60" y1="551.90" x2="144.60" y2="556.10" stroke="#333" stroke-width="1.1"/>
<text transform="translate(149.10,561.50) rotate(-90)" font-family="Liberation Sans, sans-serif" font-weight="bold" font-size="13.1" fill="#000" text-anchor="end">1e+02</text>
<line x1="177.90" y1="551.90" x2="177.90" y2="556.10" stroke="#333" stroke-width="1.1"/>
<text transform="translate(182.40,561.50) rotate(-90)" font-family="Liberation Sans, sans-serif" font-weight="bold" font-size="13.1" fill="#000" text-anchor="end">1e+04</text>
<line x1="196.60" y1="551.90" x2="196.60" y2="556.10" stroke="#333" stroke-width="1.1"/>
<text transform="translate(201.10,561.50) rotate(-90)" font-family="Liberation Sans, sans-serif" font-weight="bold" font-size="13.1" fill="#000" text-anchor="end">1e-02</text>
<line x1="229.90" y1="551.90" x2="229.90" y2="556.10" stroke="#333" stroke-width="1.1"/>
<text transform="translate(234.40,561.50) rotate(-90)" font-family="Liberation Sans, sans-serif" font-weight="bold" font-size="13.1" fill="#000" text-anchor="end">1e+00</text>
<line x1="263.20" y1="551.90" x2="263.20" y2="556.10" stroke="#333" stroke-width="1.1"/>
<text transform="translate(267.70,561.50) rotate(-90)" font-family="Liberation Sans, sans-serif" font-weight="bold" font-size="13.1" fill="#000" text-anchor="end">1e+02</text>
<line x1="296.50" y1="551.90" x2="296.50" y2="556.10" stroke="#333" stroke-width="1.1"/>
<text transform="translate(301.00,561.50) rotate(-90)" font-family="Liberation Sans, sans-serif" font-weight="bold" font-size="13.1" fill="#000" text-anchor="end">1e+04</text>
<line x1="315.20" y1="551.90" x2="315.20" y2="556.10" stroke="#333" stroke-width="1.1"/>
<text transform="translate(319.70,561.50) rotate(-90)" font-family="Liberation Sans, sans-serif" font-weight="bold" font-size="13.1" fill="#000" text-anchor="end">1e-02</text>
<line x1="348.50" y1="551.90" x2="348.50" y2="556.10" stroke="#333" stroke-width="1.1"/>
<text transform="translate(353.00,561.50) rotate(-90)" font-family="Liberation Sans, sans-serif" font-weight="bold" font-size="13.1" fill="#000" text-anchor="end">1e+00</text>
<line x1="381.80" y1="551.90" x2="381.80" y2="556.10" stroke="#333" stroke-width="1.1"/>
<text transform="translate(386.30,561.50) rotate(-90)" font-family="Liberation Sans, sans-serif" font-weight="bold" font-size="13.1" fill="#000" text-anchor="end">1e+02</text>
<line x1="415.10" y1="551.90" x2="415.10" y2="556.10" stroke="#333" stroke-width="1.1"/>
<text transform="translate(419.60,561.50) rotate(-90)" font-family="Liberation Sans, sans-serif" font-weight="bold" font-size="13.1" fill="#000" text-anchor="end">1e+04</text>
<line x1="433.80" y1="551.90" x2="433.80" y2="556.10" stroke="#333" stroke-width="1.1"/>
<text transform="translate(438.30,561.50) rotate(-90)" font-family="Liberation Sans, sans-serif" font-weight="bold" font-size="13.1" fill="#000" text-anchor="end">1e-02</text>
<line x1="467.10" y1="551.90" x2="467.10" y2="556.10" stroke="#333" stroke-width="1.1"/>
<text transform="translate(471.60,561.50) rotate(-90)" font-family="Liberation Sans, sans-serif" font-weight="bold" font-size="13.1" fill="#000" text-anchor="end">1e+00</text>
<line x1="500.40" y1="551.90" x2="500.40" y2="556.10" stroke="#333" stroke-width="1.1"/>
<text transform="translate(504.90,561.50) rotate(-90)" font-family="Liberation Sans, sans-serif" font-weight="bold" font-size="13.1" fill="#000" text-anchor="end">1e+02</text>
<line x1="533.70" y1="551.90" x2="533.70" y2="556.10" stroke="#333" stroke-width="1.1"/>
<text transform="translate(538.20,561.50) rotate(-90)" font-family="Liberation Sans, sans-serif" font-weight="bold" font-size="13.1" fill="#000" text-anchor="end">1e+04</text>
<line x1="552.40" y1="551.90" x2="552.40" y2="556.10" stroke="#333" stroke-width="1.1"/>
<text transform="translate(556.90,561.50) rotate(-90)" font-family="Liberation Sans, sans-serif" font-weight="bold" font-size="13.1" fill="#000" text-anchor="end">1e-02</text>
<line x1="585.70" y1="551.90" x2="585.70" y2="556.10" stroke="#333" stroke-width="1.1"/>
<text transform="translate(590.20,561.50) rotate(-90)" font-family="Liberation Sans, sans-serif" font-weight="bold" font-size="13.1" fill="#000" text-anchor="end">1e+00</text>
<line x1="619.00" y1="551.90" x2="619.00" y2="556.10" stroke="#333" stroke-width="1.1"/>
<text transform="translate(623.50,561.50) rotate(-90)" font-family="Liberation Sans, sans-serif" font-weight="bold" font-size="13.1" fill="#000" text-anchor="end">1e+02</text>
<line x1="652.30" y1="551.90" x2="652.30" y2="556.10" stroke="#333" stroke-width="1.1"/>
<text transform="translate(656.80,561.50) rotate(-90)" font-family="Liberation Sans, sans-serif" font-weight="bold" font-size="13.1" fill="#000" text-anchor="end">1e+04</text>
<text x="365.3" y="613.6" font-family="Liberation Sans, sans-serif" font-weight="bold" font-size="16.9" fill="#000" text-anchor="middle">Dilution factor</text>
<text transform="translate(20.3,302.5) rotate(-90)" font-family="Liberation Sans, sans-serif" font-weight="bold" font-size="16.8" fill="#000" text-anchor="middle">Ratio of stream concentration to stream standard</text>
<text x="212.4" y="660.8" font-family="Liberation Sans, sans-serif" font-weight="bold" font-size="16.6" fill="#000">River section type</text>
<path d="M377.5 651 L381.3 657.2 L373.7 657.2 Z" fill="none" stroke="#b22222" stroke-width="1.3"/>
<rect x="444.1" y="651.8" width="6.6" height="6.6" fill="none" stroke="#006400" stroke-width="1.3"/>
<text x="399.5" y="659.6" font-family="Liberation Sans, sans-serif" font-weight="bold" font-size="13.1" fill="#000">hilly</text>
<text x="469.5" y="659.6" font-family="Liberation Sans, sans-serif" font-weight="bold" font-size="13.1" fill="#000">lowland</text>
</svg></body></html>
